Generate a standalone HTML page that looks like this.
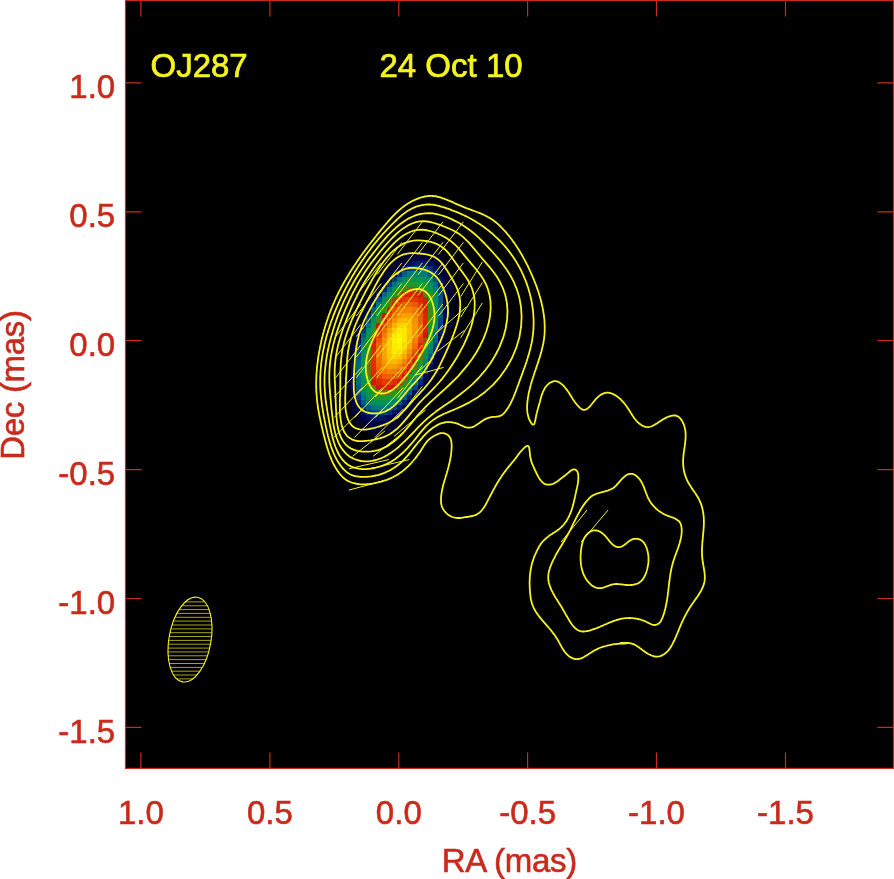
<!DOCTYPE html>
<html><head><meta charset="utf-8"><title>OJ287 24 Oct 10</title>
<style>
html,body{margin:0;padding:0;background:#fff;}
svg{display:block}
text{font-family:"Liberation Sans",sans-serif;font-size:33px}
.r{fill:#c92a1b;stroke:#c92a1b;stroke-width:0.6px}
.y{fill:#f6f420;stroke:#f6f420;stroke-width:0.7px}
</style></head><body>
<svg width="894" height="879" viewBox="0 0 894 879">
<rect x="125.5" y="0.5" width="768.0" height="767.9" fill="#000" stroke="#c92a1b" stroke-width="1.2"/>
<path d="M140.9 0.5v16 M140.9 768.4v-16 M125.5 82.9h16 M893.5 82.9h-16 M269.9 0.5v16 M269.9 768.4v-16 M125.5 211.8h16 M893.5 211.8h-16 M398.8 0.5v16 M398.8 768.4v-16 M125.5 340.7h16 M893.5 340.7h-16 M527.6 0.5v16 M527.6 768.4v-16 M125.5 469.6h16 M893.5 469.6h-16 M656.5 0.5v16 M656.5 768.4v-16 M125.5 598.5h16 M893.5 598.5h-16 M785.5 0.5v16 M785.5 768.4v-16 M125.5 727.4h16 M893.5 727.4h-16" stroke="#c92a1b" stroke-width="1.2" fill="none"/>
<text x="140.9" y="824.2" text-anchor="middle" class="r">1.0</text>
<text x="115.2" y="98.3" text-anchor="end" class="r">1.0</text>
<text x="269.9" y="824.2" text-anchor="middle" class="r">0.5</text>
<text x="115.2" y="227.2" text-anchor="end" class="r">0.5</text>
<text x="398.8" y="824.2" text-anchor="middle" class="r">0.0</text>
<text x="115.2" y="356.1" text-anchor="end" class="r">0.0</text>
<text x="527.6" y="824.2" text-anchor="middle" class="r">-0.5</text>
<text x="115.2" y="485.0" text-anchor="end" class="r">-0.5</text>
<text x="656.5" y="824.2" text-anchor="middle" class="r">-1.0</text>
<text x="115.2" y="613.9" text-anchor="end" class="r">-1.0</text>
<text x="785.5" y="824.2" text-anchor="middle" class="r">-1.5</text>
<text x="115.2" y="742.8" text-anchor="end" class="r">-1.5</text>
<text x="509.3" y="872" text-anchor="middle" class="r" letter-spacing="-0.3">RA (mas)</text>
<text transform="translate(24,385) rotate(-90)" text-anchor="middle" class="r" letter-spacing="-0.3">Dec (mas)</text>
<text x="150.5" y="77.4" class="y">OJ287</text>
<text x="379.5" y="77.4" class="y">24 Oct 10</text>
<g shape-rendering="crispEdges">
<rect x="417.56" y="245.78" width="5.19" height="5.19" fill="#000026"/>
<rect x="422.70" y="245.78" width="5.19" height="5.19" fill="#000026"/>
<rect x="402.14" y="250.92" width="5.19" height="5.19" fill="#000026"/>
<rect x="407.28" y="250.92" width="5.19" height="5.19" fill="#00002a"/>
<rect x="412.42" y="250.92" width="5.19" height="5.19" fill="#00002f"/>
<rect x="417.56" y="250.92" width="5.19" height="5.19" fill="#000032"/>
<rect x="422.70" y="250.92" width="5.19" height="5.19" fill="#000032"/>
<rect x="427.84" y="250.92" width="5.19" height="5.19" fill="#000030"/>
<rect x="432.98" y="250.92" width="5.19" height="5.19" fill="#00002b"/>
<rect x="397.00" y="256.06" width="5.19" height="5.19" fill="#000026"/>
<rect x="402.14" y="256.06" width="5.19" height="5.19" fill="#000030"/>
<rect x="407.28" y="256.06" width="5.19" height="5.19" fill="#000037"/>
<rect x="412.42" y="256.06" width="5.19" height="5.19" fill="#000240"/>
<rect x="417.56" y="256.06" width="5.19" height="5.19" fill="#000344"/>
<rect x="422.70" y="256.06" width="5.19" height="5.19" fill="#000343"/>
<rect x="427.84" y="256.06" width="5.19" height="5.19" fill="#00013d"/>
<rect x="432.98" y="256.06" width="5.19" height="5.19" fill="#000034"/>
<rect x="438.12" y="256.06" width="5.19" height="5.19" fill="#00002c"/>
<rect x="391.86" y="261.20" width="5.19" height="5.19" fill="#000028"/>
<rect x="397.00" y="261.20" width="5.19" height="5.19" fill="#000034"/>
<rect x="402.14" y="261.20" width="5.19" height="5.19" fill="#000343"/>
<rect x="407.28" y="261.20" width="5.19" height="5.19" fill="#000c55"/>
<rect x="412.42" y="261.20" width="5.19" height="5.19" fill="#001967"/>
<rect x="417.56" y="261.20" width="5.19" height="5.19" fill="#001d6d"/>
<rect x="422.70" y="261.20" width="5.19" height="5.19" fill="#001967"/>
<rect x="427.84" y="261.20" width="5.19" height="5.19" fill="#000c55"/>
<rect x="432.98" y="261.20" width="5.19" height="5.19" fill="#000342"/>
<rect x="438.12" y="261.20" width="5.19" height="5.19" fill="#000034"/>
<rect x="443.26" y="261.20" width="5.19" height="5.19" fill="#000028"/>
<rect x="386.72" y="266.34" width="5.19" height="5.19" fill="#000028"/>
<rect x="391.86" y="266.34" width="5.19" height="5.19" fill="#000036"/>
<rect x="397.00" y="266.34" width="5.19" height="5.19" fill="#00054a"/>
<rect x="402.14" y="266.34" width="5.19" height="5.19" fill="#001f6f"/>
<rect x="407.28" y="266.34" width="5.19" height="5.19" fill="#003f83"/>
<rect x="412.42" y="266.34" width="5.19" height="5.19" fill="#005186"/>
<rect x="417.56" y="266.34" width="5.19" height="5.19" fill="#005485"/>
<rect x="422.70" y="266.34" width="5.19" height="5.19" fill="#004887"/>
<rect x="427.84" y="266.34" width="5.19" height="5.19" fill="#002f78"/>
<rect x="432.98" y="266.34" width="5.19" height="5.19" fill="#00105b"/>
<rect x="438.12" y="266.34" width="5.19" height="5.19" fill="#00023e"/>
<rect x="443.26" y="266.34" width="5.19" height="5.19" fill="#00002e"/>
<rect x="381.58" y="271.48" width="5.19" height="5.19" fill="#000026"/>
<rect x="386.72" y="271.48" width="5.19" height="5.19" fill="#000035"/>
<rect x="391.86" y="271.48" width="5.19" height="5.19" fill="#000950"/>
<rect x="397.00" y="271.48" width="5.19" height="5.19" fill="#00327b"/>
<rect x="402.14" y="271.48" width="5.19" height="5.19" fill="#005e84"/>
<rect x="407.28" y="271.48" width="5.19" height="5.19" fill="#00767b"/>
<rect x="412.42" y="271.48" width="5.19" height="5.19" fill="#007f74"/>
<rect x="417.56" y="271.48" width="5.19" height="5.19" fill="#007f74"/>
<rect x="422.70" y="271.48" width="5.19" height="5.19" fill="#00757d"/>
<rect x="427.84" y="271.48" width="5.19" height="5.19" fill="#005985"/>
<rect x="432.98" y="271.48" width="5.19" height="5.19" fill="#002d77"/>
<rect x="438.12" y="271.48" width="5.19" height="5.19" fill="#00054b"/>
<rect x="443.26" y="271.48" width="5.19" height="5.19" fill="#000034"/>
<rect x="381.58" y="276.62" width="5.19" height="5.19" fill="#000033"/>
<rect x="386.72" y="276.62" width="5.19" height="5.19" fill="#00074e"/>
<rect x="391.86" y="276.62" width="5.19" height="5.19" fill="#003b80"/>
<rect x="397.00" y="276.62" width="5.19" height="5.19" fill="#007080"/>
<rect x="402.14" y="276.62" width="5.19" height="5.19" fill="#008a6b"/>
<rect x="407.28" y="276.62" width="5.19" height="5.19" fill="#049257"/>
<rect x="412.42" y="276.62" width="5.19" height="5.19" fill="#06954e"/>
<rect x="417.56" y="276.62" width="5.19" height="5.19" fill="#059353"/>
<rect x="422.70" y="276.62" width="5.19" height="5.19" fill="#018e64"/>
<rect x="427.84" y="276.62" width="5.19" height="5.19" fill="#007978"/>
<rect x="432.98" y="276.62" width="5.19" height="5.19" fill="#004e86"/>
<rect x="438.12" y="276.62" width="5.19" height="5.19" fill="#001562"/>
<rect x="443.26" y="276.62" width="5.19" height="5.19" fill="#000139"/>
<rect x="448.40" y="276.62" width="5.19" height="5.19" fill="#000028"/>
<rect x="376.44" y="281.76" width="5.19" height="5.19" fill="#00002f"/>
<rect x="381.58" y="281.76" width="5.19" height="5.19" fill="#000447"/>
<rect x="386.72" y="281.76" width="5.19" height="5.19" fill="#00377e"/>
<rect x="391.86" y="281.76" width="5.19" height="5.19" fill="#00757c"/>
<rect x="397.00" y="281.76" width="5.19" height="5.19" fill="#03905d"/>
<rect x="402.14" y="281.76" width="5.19" height="5.19" fill="#0a9b3d"/>
<rect x="407.28" y="281.76" width="5.19" height="5.19" fill="#18992e"/>
<rect x="412.42" y="281.76" width="5.19" height="5.19" fill="#1d9829"/>
<rect x="417.56" y="281.76" width="5.19" height="5.19" fill="#169930"/>
<rect x="422.70" y="281.76" width="5.19" height="5.19" fill="#089943"/>
<rect x="427.84" y="281.76" width="5.19" height="5.19" fill="#018d65"/>
<rect x="432.98" y="281.76" width="5.19" height="5.19" fill="#006b82"/>
<rect x="438.12" y="281.76" width="5.19" height="5.19" fill="#002874"/>
<rect x="443.26" y="281.76" width="5.19" height="5.19" fill="#000240"/>
<rect x="448.40" y="281.76" width="5.19" height="5.19" fill="#00002b"/>
<rect x="371.30" y="286.90" width="5.19" height="5.19" fill="#000028"/>
<rect x="376.44" y="286.90" width="5.19" height="5.19" fill="#00023e"/>
<rect x="381.58" y="286.90" width="5.19" height="5.19" fill="#002975"/>
<rect x="386.72" y="286.90" width="5.19" height="5.19" fill="#00727f"/>
<rect x="391.86" y="286.90" width="5.19" height="5.19" fill="#049257"/>
<rect x="397.00" y="286.90" width="5.19" height="5.19" fill="#169930"/>
<rect x="402.14" y="286.90" width="5.19" height="5.19" fill="#448817"/>
<rect x="407.28" y="286.90" width="5.19" height="5.19" fill="#836309"/>
<rect x="412.42" y="286.90" width="5.19" height="5.19" fill="#8b5a08"/>
<rect x="417.56" y="286.90" width="5.19" height="5.19" fill="#567f12"/>
<rect x="422.70" y="286.90" width="5.19" height="5.19" fill="#1c982a"/>
<rect x="427.84" y="286.90" width="5.19" height="5.19" fill="#06954d"/>
<rect x="432.98" y="286.90" width="5.19" height="5.19" fill="#007c77"/>
<rect x="438.12" y="286.90" width="5.19" height="5.19" fill="#003b80"/>
<rect x="443.26" y="286.90" width="5.19" height="5.19" fill="#000446"/>
<rect x="448.40" y="286.90" width="5.19" height="5.19" fill="#00002d"/>
<rect x="371.30" y="292.04" width="5.19" height="5.19" fill="#000034"/>
<rect x="376.44" y="292.04" width="5.19" height="5.19" fill="#001561"/>
<rect x="381.58" y="292.04" width="5.19" height="5.19" fill="#006483"/>
<rect x="386.72" y="292.04" width="5.19" height="5.19" fill="#03905c"/>
<rect x="391.86" y="292.04" width="5.19" height="5.19" fill="#1a982c"/>
<rect x="397.00" y="292.04" width="5.19" height="5.19" fill="#816509"/>
<rect x="402.14" y="292.04" width="5.19" height="5.19" fill="#d21b00"/>
<rect x="407.28" y="292.04" width="5.19" height="5.19" fill="#d82200"/>
<rect x="412.42" y="292.04" width="5.19" height="5.19" fill="#d72100"/>
<rect x="417.56" y="292.04" width="5.19" height="5.19" fill="#cf1600"/>
<rect x="422.70" y="292.04" width="5.19" height="5.19" fill="#528113"/>
<rect x="427.84" y="292.04" width="5.19" height="5.19" fill="#0d9a39"/>
<rect x="432.98" y="292.04" width="5.19" height="5.19" fill="#00886c"/>
<rect x="438.12" y="292.04" width="5.19" height="5.19" fill="#004987"/>
<rect x="443.26" y="292.04" width="5.19" height="5.19" fill="#00054a"/>
<rect x="448.40" y="292.04" width="5.19" height="5.19" fill="#00002e"/>
<rect x="366.16" y="297.18" width="5.19" height="5.19" fill="#00002b"/>
<rect x="371.30" y="297.18" width="5.19" height="5.19" fill="#000447"/>
<rect x="376.44" y="297.18" width="5.19" height="5.19" fill="#004887"/>
<rect x="381.58" y="297.18" width="5.19" height="5.19" fill="#008b6a"/>
<rect x="386.72" y="297.18" width="5.19" height="5.19" fill="#159931"/>
<rect x="391.86" y="297.18" width="5.19" height="5.19" fill="#964f07"/>
<rect x="397.00" y="297.18" width="5.19" height="5.19" fill="#d92400"/>
<rect x="402.14" y="297.18" width="5.19" height="5.19" fill="#e23700"/>
<rect x="407.28" y="297.18" width="5.19" height="5.19" fill="#e54100"/>
<rect x="412.42" y="297.18" width="5.19" height="5.19" fill="#e33900"/>
<rect x="417.56" y="297.18" width="5.19" height="5.19" fill="#db2600"/>
<rect x="422.70" y="297.18" width="5.19" height="5.19" fill="#b03203"/>
<rect x="427.84" y="297.18" width="5.19" height="5.19" fill="#1b982b"/>
<rect x="432.98" y="297.18" width="5.19" height="5.19" fill="#018e63"/>
<rect x="438.12" y="297.18" width="5.19" height="5.19" fill="#005385"/>
<rect x="443.26" y="297.18" width="5.19" height="5.19" fill="#00064d"/>
<rect x="448.40" y="297.18" width="5.19" height="5.19" fill="#00002e"/>
<rect x="366.16" y="302.32" width="5.19" height="5.19" fill="#000036"/>
<rect x="371.30" y="302.32" width="5.19" height="5.19" fill="#002170"/>
<rect x="376.44" y="302.32" width="5.19" height="5.19" fill="#00787a"/>
<rect x="381.58" y="302.32" width="5.19" height="5.19" fill="#099a3f"/>
<rect x="386.72" y="302.32" width="5.19" height="5.19" fill="#74700b"/>
<rect x="391.86" y="302.32" width="5.19" height="5.19" fill="#da2600"/>
<rect x="397.00" y="302.32" width="5.19" height="5.19" fill="#e74800"/>
<rect x="402.14" y="302.32" width="5.19" height="5.19" fill="#ed6100"/>
<rect x="407.28" y="302.32" width="5.19" height="5.19" fill="#ef6700"/>
<rect x="412.42" y="302.32" width="5.19" height="5.19" fill="#eb5900"/>
<rect x="417.56" y="302.32" width="5.19" height="5.19" fill="#e33800"/>
<rect x="422.70" y="302.32" width="5.19" height="5.19" fill="#d21a00"/>
<rect x="427.84" y="302.32" width="5.19" height="5.19" fill="#249722"/>
<rect x="432.98" y="302.32" width="5.19" height="5.19" fill="#03915b"/>
<rect x="438.12" y="302.32" width="5.19" height="5.19" fill="#005785"/>
<rect x="443.26" y="302.32" width="5.19" height="5.19" fill="#00074d"/>
<rect x="448.40" y="302.32" width="5.19" height="5.19" fill="#00002d"/>
<rect x="361.02" y="307.46" width="5.19" height="5.19" fill="#00002b"/>
<rect x="366.16" y="307.46" width="5.19" height="5.19" fill="#00054a"/>
<rect x="371.30" y="307.46" width="5.19" height="5.19" fill="#005585"/>
<rect x="376.44" y="307.46" width="5.19" height="5.19" fill="#039159"/>
<rect x="381.58" y="307.46" width="5.19" height="5.19" fill="#2f931c"/>
<rect x="386.72" y="307.46" width="5.19" height="5.19" fill="#d72100"/>
<rect x="391.86" y="307.46" width="5.19" height="5.19" fill="#e84b00"/>
<rect x="397.00" y="307.46" width="5.19" height="5.19" fill="#f17200"/>
<rect x="402.14" y="307.46" width="5.19" height="5.19" fill="#f48400"/>
<rect x="407.28" y="307.46" width="5.19" height="5.19" fill="#f48400"/>
<rect x="412.42" y="307.46" width="5.19" height="5.19" fill="#f17300"/>
<rect x="417.56" y="307.46" width="5.19" height="5.19" fill="#e84c00"/>
<rect x="422.70" y="307.46" width="5.19" height="5.19" fill="#d72100"/>
<rect x="427.84" y="307.46" width="5.19" height="5.19" fill="#33901b"/>
<rect x="432.98" y="307.46" width="5.19" height="5.19" fill="#049258"/>
<rect x="438.12" y="307.46" width="5.19" height="5.19" fill="#005785"/>
<rect x="443.26" y="307.46" width="5.19" height="5.19" fill="#00054a"/>
<rect x="448.40" y="307.46" width="5.19" height="5.19" fill="#00002c"/>
<rect x="361.02" y="312.60" width="5.19" height="5.19" fill="#000035"/>
<rect x="366.16" y="312.60" width="5.19" height="5.19" fill="#002270"/>
<rect x="371.30" y="312.60" width="5.19" height="5.19" fill="#007d76"/>
<rect x="376.44" y="312.60" width="5.19" height="5.19" fill="#129a34"/>
<rect x="381.58" y="312.60" width="5.19" height="5.19" fill="#ce1500"/>
<rect x="386.72" y="312.60" width="5.19" height="5.19" fill="#e53f00"/>
<rect x="391.86" y="312.60" width="5.19" height="5.19" fill="#f17400"/>
<rect x="397.00" y="312.60" width="5.19" height="5.19" fill="#f69400"/>
<rect x="402.14" y="312.60" width="5.19" height="5.19" fill="#f9a300"/>
<rect x="407.28" y="312.60" width="5.19" height="5.19" fill="#f89e00"/>
<rect x="412.42" y="312.60" width="5.19" height="5.19" fill="#f48400"/>
<rect x="417.56" y="312.60" width="5.19" height="5.19" fill="#eb5a00"/>
<rect x="422.70" y="312.60" width="5.19" height="5.19" fill="#da2500"/>
<rect x="427.84" y="312.60" width="5.19" height="5.19" fill="#3d8c19"/>
<rect x="432.98" y="312.60" width="5.19" height="5.19" fill="#039159"/>
<rect x="438.12" y="312.60" width="5.19" height="5.19" fill="#005186"/>
<rect x="443.26" y="312.60" width="5.19" height="5.19" fill="#000447"/>
<rect x="448.40" y="312.60" width="5.19" height="5.19" fill="#00002a"/>
<rect x="361.02" y="317.74" width="5.19" height="5.19" fill="#000445"/>
<rect x="366.16" y="317.74" width="5.19" height="5.19" fill="#004f86"/>
<rect x="371.30" y="317.74" width="5.19" height="5.19" fill="#049159"/>
<rect x="376.44" y="317.74" width="5.19" height="5.19" fill="#4a8516"/>
<rect x="381.58" y="317.74" width="5.19" height="5.19" fill="#dd2900"/>
<rect x="386.72" y="317.74" width="5.19" height="5.19" fill="#ef6700"/>
<rect x="391.86" y="317.74" width="5.19" height="5.19" fill="#f69400"/>
<rect x="397.00" y="317.74" width="5.19" height="5.19" fill="#fbb400"/>
<rect x="402.14" y="317.74" width="5.19" height="5.19" fill="#fcbd00"/>
<rect x="407.28" y="317.74" width="5.19" height="5.19" fill="#fbb200"/>
<rect x="412.42" y="317.74" width="5.19" height="5.19" fill="#f69100"/>
<rect x="417.56" y="317.74" width="5.19" height="5.19" fill="#ed6200"/>
<rect x="422.70" y="317.74" width="5.19" height="5.19" fill="#db2600"/>
<rect x="427.84" y="317.74" width="5.19" height="5.19" fill="#34901b"/>
<rect x="432.98" y="317.74" width="5.19" height="5.19" fill="#028f5f"/>
<rect x="438.12" y="317.74" width="5.19" height="5.19" fill="#004787"/>
<rect x="443.26" y="317.74" width="5.19" height="5.19" fill="#000342"/>
<rect x="448.40" y="317.74" width="5.19" height="5.19" fill="#000026"/>
<rect x="355.88" y="322.88" width="5.19" height="5.19" fill="#000031"/>
<rect x="361.02" y="322.88" width="5.19" height="5.19" fill="#001662"/>
<rect x="366.16" y="322.88" width="5.19" height="5.19" fill="#00757c"/>
<rect x="371.30" y="322.88" width="5.19" height="5.19" fill="#0e9a38"/>
<rect x="376.44" y="322.88" width="5.19" height="5.19" fill="#ce1600"/>
<rect x="381.58" y="322.88" width="5.19" height="5.19" fill="#e74a00"/>
<rect x="386.72" y="322.88" width="5.19" height="5.19" fill="#f48600"/>
<rect x="391.86" y="322.88" width="5.19" height="5.19" fill="#fbb300"/>
<rect x="397.00" y="322.88" width="5.19" height="5.19" fill="#fdcf00"/>
<rect x="402.14" y="322.88" width="5.19" height="5.19" fill="#fed400"/>
<rect x="407.28" y="322.88" width="5.19" height="5.19" fill="#fcbf00"/>
<rect x="412.42" y="322.88" width="5.19" height="5.19" fill="#f79700"/>
<rect x="417.56" y="322.88" width="5.19" height="5.19" fill="#ee6300"/>
<rect x="422.70" y="322.88" width="5.19" height="5.19" fill="#d92400"/>
<rect x="427.84" y="322.88" width="5.19" height="5.19" fill="#259721"/>
<rect x="432.98" y="322.88" width="5.19" height="5.19" fill="#008c69"/>
<rect x="438.12" y="322.88" width="5.19" height="5.19" fill="#00377e"/>
<rect x="443.26" y="322.88" width="5.19" height="5.19" fill="#00013b"/>
<rect x="448.40" y="322.88" width="5.19" height="5.19" fill="#000026"/>
<rect x="355.88" y="328.02" width="5.19" height="5.19" fill="#00013a"/>
<rect x="361.02" y="328.02" width="5.19" height="5.19" fill="#00377e"/>
<rect x="366.16" y="328.02" width="5.19" height="5.19" fill="#008c68"/>
<rect x="371.30" y="328.02" width="5.19" height="5.19" fill="#27961f"/>
<rect x="376.44" y="328.02" width="5.19" height="5.19" fill="#db2700"/>
<rect x="381.58" y="328.02" width="5.19" height="5.19" fill="#f06a00"/>
<rect x="386.72" y="328.02" width="5.19" height="5.19" fill="#f8a100"/>
<rect x="391.86" y="328.02" width="5.19" height="5.19" fill="#fdcc00"/>
<rect x="397.00" y="328.02" width="5.19" height="5.19" fill="#ffe700"/>
<rect x="402.14" y="328.02" width="5.19" height="5.19" fill="#ffe500"/>
<rect x="407.28" y="328.02" width="5.19" height="5.19" fill="#fcc500"/>
<rect x="412.42" y="328.02" width="5.19" height="5.19" fill="#f79700"/>
<rect x="417.56" y="328.02" width="5.19" height="5.19" fill="#ec5d00"/>
<rect x="422.70" y="328.02" width="5.19" height="5.19" fill="#d51f00"/>
<rect x="427.84" y="328.02" width="5.19" height="5.19" fill="#1b982b"/>
<rect x="432.98" y="328.02" width="5.19" height="5.19" fill="#008172"/>
<rect x="438.12" y="328.02" width="5.19" height="5.19" fill="#002371"/>
<rect x="443.26" y="328.02" width="5.19" height="5.19" fill="#000035"/>
<rect x="355.88" y="333.16" width="5.19" height="5.19" fill="#000448"/>
<rect x="361.02" y="333.16" width="5.19" height="5.19" fill="#005a84"/>
<rect x="366.16" y="333.16" width="5.19" height="5.19" fill="#06954d"/>
<rect x="371.30" y="333.16" width="5.19" height="5.19" fill="#895c08"/>
<rect x="376.44" y="333.16" width="5.19" height="5.19" fill="#e43c00"/>
<rect x="381.58" y="333.16" width="5.19" height="5.19" fill="#f38100"/>
<rect x="386.72" y="333.16" width="5.19" height="5.19" fill="#fbb700"/>
<rect x="391.86" y="333.16" width="5.19" height="5.19" fill="#ffe300"/>
<rect x="397.00" y="333.16" width="5.19" height="5.19" fill="#fff400"/>
<rect x="402.14" y="333.16" width="5.19" height="5.19" fill="#ffe900"/>
<rect x="407.28" y="333.16" width="5.19" height="5.19" fill="#fcc200"/>
<rect x="412.42" y="333.16" width="5.19" height="5.19" fill="#f69000"/>
<rect x="417.56" y="333.16" width="5.19" height="5.19" fill="#e95000"/>
<rect x="422.70" y="333.16" width="5.19" height="5.19" fill="#cf1700"/>
<rect x="427.84" y="333.16" width="5.19" height="5.19" fill="#0d9a39"/>
<rect x="432.98" y="333.16" width="5.19" height="5.19" fill="#00737e"/>
<rect x="438.12" y="333.16" width="5.19" height="5.19" fill="#00125d"/>
<rect x="443.26" y="333.16" width="5.19" height="5.19" fill="#00002f"/>
<rect x="350.74" y="338.30" width="5.19" height="5.19" fill="#000030"/>
<rect x="355.88" y="338.30" width="5.19" height="5.19" fill="#001460"/>
<rect x="361.02" y="338.30" width="5.19" height="5.19" fill="#00757c"/>
<rect x="366.16" y="338.30" width="5.19" height="5.19" fill="#109a36"/>
<rect x="371.30" y="338.30" width="5.19" height="5.19" fill="#d11900"/>
<rect x="376.44" y="338.30" width="5.19" height="5.19" fill="#ea5300"/>
<rect x="381.58" y="338.30" width="5.19" height="5.19" fill="#f69300"/>
<rect x="386.72" y="338.30" width="5.19" height="5.19" fill="#fcc600"/>
<rect x="391.86" y="338.30" width="5.19" height="5.19" fill="#ffec00"/>
<rect x="397.00" y="338.30" width="5.19" height="5.19" fill="#fffc00"/>
<rect x="402.14" y="338.30" width="5.19" height="5.19" fill="#ffe500"/>
<rect x="407.28" y="338.30" width="5.19" height="5.19" fill="#fbb800"/>
<rect x="412.42" y="338.30" width="5.19" height="5.19" fill="#f38200"/>
<rect x="417.56" y="338.30" width="5.19" height="5.19" fill="#e43e00"/>
<rect x="422.70" y="338.30" width="5.19" height="5.19" fill="#8c5908"/>
<rect x="427.84" y="338.30" width="5.19" height="5.19" fill="#06964c"/>
<rect x="432.98" y="338.30" width="5.19" height="5.19" fill="#005b84"/>
<rect x="438.12" y="338.30" width="5.19" height="5.19" fill="#000448"/>
<rect x="443.26" y="338.30" width="5.19" height="5.19" fill="#000029"/>
<rect x="350.74" y="343.44" width="5.19" height="5.19" fill="#000036"/>
<rect x="355.88" y="343.44" width="5.19" height="5.19" fill="#002a75"/>
<rect x="361.02" y="343.44" width="5.19" height="5.19" fill="#00856e"/>
<rect x="366.16" y="343.44" width="5.19" height="5.19" fill="#209726"/>
<rect x="371.30" y="343.44" width="5.19" height="5.19" fill="#d82300"/>
<rect x="376.44" y="343.44" width="5.19" height="5.19" fill="#ee6500"/>
<rect x="381.58" y="343.44" width="5.19" height="5.19" fill="#f89f00"/>
<rect x="386.72" y="343.44" width="5.19" height="5.19" fill="#fdcf00"/>
<rect x="391.86" y="343.44" width="5.19" height="5.19" fill="#ffed00"/>
<rect x="397.00" y="343.44" width="5.19" height="5.19" fill="#fff000"/>
<rect x="402.14" y="343.44" width="5.19" height="5.19" fill="#fed500"/>
<rect x="407.28" y="343.44" width="5.19" height="5.19" fill="#f9a800"/>
<rect x="412.42" y="343.44" width="5.19" height="5.19" fill="#f17000"/>
<rect x="417.56" y="343.44" width="5.19" height="5.19" fill="#dd2900"/>
<rect x="422.70" y="343.44" width="5.19" height="5.19" fill="#31921c"/>
<rect x="427.84" y="343.44" width="5.19" height="5.19" fill="#018e64"/>
<rect x="432.98" y="343.44" width="5.19" height="5.19" fill="#003b80"/>
<rect x="438.12" y="343.44" width="5.19" height="5.19" fill="#00013c"/>
<rect x="443.26" y="343.44" width="5.19" height="5.19" fill="#000026"/>
<rect x="350.74" y="348.58" width="5.19" height="5.19" fill="#00023e"/>
<rect x="355.88" y="348.58" width="5.19" height="5.19" fill="#004184"/>
<rect x="361.02" y="348.58" width="5.19" height="5.19" fill="#028f60"/>
<rect x="366.16" y="348.58" width="5.19" height="5.19" fill="#3c8c19"/>
<rect x="371.30" y="348.58" width="5.19" height="5.19" fill="#de2a00"/>
<rect x="376.44" y="348.58" width="5.19" height="5.19" fill="#f16f00"/>
<rect x="381.58" y="348.58" width="5.19" height="5.19" fill="#f9a500"/>
<rect x="386.72" y="348.58" width="5.19" height="5.19" fill="#fdce00"/>
<rect x="391.86" y="348.58" width="5.19" height="5.19" fill="#ffe600"/>
<rect x="397.00" y="348.58" width="5.19" height="5.19" fill="#ffe100"/>
<rect x="402.14" y="348.58" width="5.19" height="5.19" fill="#fcbf00"/>
<rect x="407.28" y="348.58" width="5.19" height="5.19" fill="#f69000"/>
<rect x="412.42" y="348.58" width="5.19" height="5.19" fill="#ea5400"/>
<rect x="417.56" y="348.58" width="5.19" height="5.19" fill="#d21a00"/>
<rect x="422.70" y="348.58" width="5.19" height="5.19" fill="#149932"/>
<rect x="427.84" y="348.58" width="5.19" height="5.19" fill="#007a78"/>
<rect x="432.98" y="348.58" width="5.19" height="5.19" fill="#001a68"/>
<rect x="438.12" y="348.58" width="5.19" height="5.19" fill="#000032"/>
<rect x="350.74" y="353.72" width="5.19" height="5.19" fill="#000447"/>
<rect x="355.88" y="353.72" width="5.19" height="5.19" fill="#005485"/>
<rect x="361.02" y="353.72" width="5.19" height="5.19" fill="#059353"/>
<rect x="366.16" y="353.72" width="5.19" height="5.19" fill="#64780f"/>
<rect x="371.30" y="353.72" width="5.19" height="5.19" fill="#e13000"/>
<rect x="376.44" y="353.72" width="5.19" height="5.19" fill="#f17300"/>
<rect x="381.58" y="353.72" width="5.19" height="5.19" fill="#f9a300"/>
<rect x="386.72" y="353.72" width="5.19" height="5.19" fill="#fcc500"/>
<rect x="391.86" y="353.72" width="5.19" height="5.19" fill="#fdd300"/>
<rect x="397.00" y="353.72" width="5.19" height="5.19" fill="#fcc600"/>
<rect x="402.14" y="353.72" width="5.19" height="5.19" fill="#f9a600"/>
<rect x="407.28" y="353.72" width="5.19" height="5.19" fill="#f17500"/>
<rect x="412.42" y="353.72" width="5.19" height="5.19" fill="#e23400"/>
<rect x="417.56" y="353.72" width="5.19" height="5.19" fill="#73700b"/>
<rect x="422.70" y="353.72" width="5.19" height="5.19" fill="#06954f"/>
<rect x="427.84" y="353.72" width="5.19" height="5.19" fill="#005a84"/>
<rect x="432.98" y="353.72" width="5.19" height="5.19" fill="#000449"/>
<rect x="438.12" y="353.72" width="5.19" height="5.19" fill="#00002a"/>
<rect x="350.74" y="358.86" width="5.19" height="5.19" fill="#000850"/>
<rect x="355.88" y="358.86" width="5.19" height="5.19" fill="#006383"/>
<rect x="361.02" y="358.86" width="5.19" height="5.19" fill="#07964a"/>
<rect x="366.16" y="358.86" width="5.19" height="5.19" fill="#7b6b0a"/>
<rect x="371.30" y="358.86" width="5.19" height="5.19" fill="#e13200"/>
<rect x="376.44" y="358.86" width="5.19" height="5.19" fill="#f17000"/>
<rect x="381.58" y="358.86" width="5.19" height="5.19" fill="#f79a00"/>
<rect x="386.72" y="358.86" width="5.19" height="5.19" fill="#fbb500"/>
<rect x="391.86" y="358.86" width="5.19" height="5.19" fill="#fbba00"/>
<rect x="397.00" y="358.86" width="5.19" height="5.19" fill="#faab00"/>
<rect x="402.14" y="358.86" width="5.19" height="5.19" fill="#f48600"/>
<rect x="407.28" y="358.86" width="5.19" height="5.19" fill="#ea5300"/>
<rect x="412.42" y="358.86" width="5.19" height="5.19" fill="#d41e00"/>
<rect x="417.56" y="358.86" width="5.19" height="5.19" fill="#1d9829"/>
<rect x="422.70" y="358.86" width="5.19" height="5.19" fill="#00866e"/>
<rect x="427.84" y="358.86" width="5.19" height="5.19" fill="#003079"/>
<rect x="432.98" y="358.86" width="5.19" height="5.19" fill="#000038"/>
<rect x="438.12" y="358.86" width="5.19" height="5.19" fill="#000026"/>
<rect x="350.74" y="364.00" width="5.19" height="5.19" fill="#00105a"/>
<rect x="355.88" y="364.00" width="5.19" height="5.19" fill="#006c82"/>
<rect x="361.02" y="364.00" width="5.19" height="5.19" fill="#089846"/>
<rect x="366.16" y="364.00" width="5.19" height="5.19" fill="#7f6609"/>
<rect x="371.30" y="364.00" width="5.19" height="5.19" fill="#e02e00"/>
<rect x="376.44" y="364.00" width="5.19" height="5.19" fill="#ef6700"/>
<rect x="381.58" y="364.00" width="5.19" height="5.19" fill="#f58b00"/>
<rect x="386.72" y="364.00" width="5.19" height="5.19" fill="#f89e00"/>
<rect x="391.86" y="364.00" width="5.19" height="5.19" fill="#f89e00"/>
<rect x="397.00" y="364.00" width="5.19" height="5.19" fill="#f58900"/>
<rect x="402.14" y="364.00" width="5.19" height="5.19" fill="#ee6400"/>
<rect x="407.28" y="364.00" width="5.19" height="5.19" fill="#df2c00"/>
<rect x="412.42" y="364.00" width="5.19" height="5.19" fill="#72710c"/>
<rect x="417.56" y="364.00" width="5.19" height="5.19" fill="#079749"/>
<rect x="422.70" y="364.00" width="5.19" height="5.19" fill="#006783"/>
<rect x="427.84" y="364.00" width="5.19" height="5.19" fill="#000d56"/>
<rect x="432.98" y="364.00" width="5.19" height="5.19" fill="#00002f"/>
<rect x="350.74" y="369.14" width="5.19" height="5.19" fill="#001461"/>
<rect x="355.88" y="369.14" width="5.19" height="5.19" fill="#006f81"/>
<rect x="361.02" y="369.14" width="5.19" height="5.19" fill="#089846"/>
<rect x="366.16" y="369.14" width="5.19" height="5.19" fill="#6e730c"/>
<rect x="371.30" y="369.14" width="5.19" height="5.19" fill="#dd2900"/>
<rect x="376.44" y="369.14" width="5.19" height="5.19" fill="#ea5600"/>
<rect x="381.58" y="369.14" width="5.19" height="5.19" fill="#f27600"/>
<rect x="386.72" y="369.14" width="5.19" height="5.19" fill="#f48300"/>
<rect x="391.86" y="369.14" width="5.19" height="5.19" fill="#f37d00"/>
<rect x="397.00" y="369.14" width="5.19" height="5.19" fill="#ef6600"/>
<rect x="402.14" y="369.14" width="5.19" height="5.19" fill="#e33a00"/>
<rect x="407.28" y="369.14" width="5.19" height="5.19" fill="#cf1600"/>
<rect x="412.42" y="369.14" width="5.19" height="5.19" fill="#18992e"/>
<rect x="417.56" y="369.14" width="5.19" height="5.19" fill="#00866e"/>
<rect x="422.70" y="369.14" width="5.19" height="5.19" fill="#00367d"/>
<rect x="427.84" y="369.14" width="5.19" height="5.19" fill="#00023d"/>
<rect x="432.98" y="369.14" width="5.19" height="5.19" fill="#000026"/>
<rect x="345.60" y="374.28" width="5.19" height="5.19" fill="#000033"/>
<rect x="350.74" y="374.28" width="5.19" height="5.19" fill="#001663"/>
<rect x="355.88" y="374.28" width="5.19" height="5.19" fill="#006f81"/>
<rect x="361.02" y="374.28" width="5.19" height="5.19" fill="#07964b"/>
<rect x="366.16" y="374.28" width="5.19" height="5.19" fill="#4c8415"/>
<rect x="371.30" y="374.28" width="5.19" height="5.19" fill="#d62000"/>
<rect x="376.44" y="374.28" width="5.19" height="5.19" fill="#e54000"/>
<rect x="381.58" y="374.28" width="5.19" height="5.19" fill="#ec5b00"/>
<rect x="386.72" y="374.28" width="5.19" height="5.19" fill="#ee6400"/>
<rect x="391.86" y="374.28" width="5.19" height="5.19" fill="#eb5800"/>
<rect x="397.00" y="374.28" width="5.19" height="5.19" fill="#e33a00"/>
<rect x="402.14" y="374.28" width="5.19" height="5.19" fill="#d31c00"/>
<rect x="407.28" y="374.28" width="5.19" height="5.19" fill="#2c941d"/>
<rect x="412.42" y="374.28" width="5.19" height="5.19" fill="#059354"/>
<rect x="417.56" y="374.28" width="5.19" height="5.19" fill="#006184"/>
<rect x="422.70" y="374.28" width="5.19" height="5.19" fill="#000d56"/>
<rect x="427.84" y="374.28" width="5.19" height="5.19" fill="#000030"/>
<rect x="432.98" y="374.28" width="5.19" height="5.19" fill="#000026"/>
<rect x="345.60" y="379.42" width="5.19" height="5.19" fill="#000033"/>
<rect x="350.74" y="379.42" width="5.19" height="5.19" fill="#001561"/>
<rect x="355.88" y="379.42" width="5.19" height="5.19" fill="#006983"/>
<rect x="361.02" y="379.42" width="5.19" height="5.19" fill="#059354"/>
<rect x="366.16" y="379.42" width="5.19" height="5.19" fill="#259721"/>
<rect x="371.30" y="379.42" width="5.19" height="5.19" fill="#ce1600"/>
<rect x="376.44" y="379.42" width="5.19" height="5.19" fill="#dd2900"/>
<rect x="381.58" y="379.42" width="5.19" height="5.19" fill="#e33900"/>
<rect x="386.72" y="379.42" width="5.19" height="5.19" fill="#e43c00"/>
<rect x="391.86" y="379.42" width="5.19" height="5.19" fill="#e02d00"/>
<rect x="397.00" y="379.42" width="5.19" height="5.19" fill="#d31c00"/>
<rect x="402.14" y="379.42" width="5.19" height="5.19" fill="#508214"/>
<rect x="407.28" y="379.42" width="5.19" height="5.19" fill="#099942"/>
<rect x="412.42" y="379.42" width="5.19" height="5.19" fill="#007a78"/>
<rect x="417.56" y="379.42" width="5.19" height="5.19" fill="#002b76"/>
<rect x="422.70" y="379.42" width="5.19" height="5.19" fill="#00013b"/>
<rect x="427.84" y="379.42" width="5.19" height="5.19" fill="#000026"/>
<rect x="345.60" y="384.56" width="5.19" height="5.19" fill="#000033"/>
<rect x="350.74" y="384.56" width="5.19" height="5.19" fill="#00115c"/>
<rect x="355.88" y="384.56" width="5.19" height="5.19" fill="#005d84"/>
<rect x="361.02" y="384.56" width="5.19" height="5.19" fill="#028f61"/>
<rect x="366.16" y="384.56" width="5.19" height="5.19" fill="#169930"/>
<rect x="371.30" y="384.56" width="5.19" height="5.19" fill="#6c740d"/>
<rect x="376.44" y="384.56" width="5.19" height="5.19" fill="#d01800"/>
<rect x="381.58" y="384.56" width="5.19" height="5.19" fill="#d62000"/>
<rect x="386.72" y="384.56" width="5.19" height="5.19" fill="#d51e00"/>
<rect x="391.86" y="384.56" width="5.19" height="5.19" fill="#ce1500"/>
<rect x="397.00" y="384.56" width="5.19" height="5.19" fill="#4a8516"/>
<rect x="402.14" y="384.56" width="5.19" height="5.19" fill="#0c9b3a"/>
<rect x="407.28" y="384.56" width="5.19" height="5.19" fill="#00876d"/>
<rect x="412.42" y="384.56" width="5.19" height="5.19" fill="#004887"/>
<rect x="417.56" y="384.56" width="5.19" height="5.19" fill="#00054a"/>
<rect x="422.70" y="384.56" width="5.19" height="5.19" fill="#00002e"/>
<rect x="427.84" y="384.56" width="5.19" height="5.19" fill="#000026"/>
<rect x="350.74" y="389.70" width="5.19" height="5.19" fill="#000a52"/>
<rect x="355.88" y="389.70" width="5.19" height="5.19" fill="#004d86"/>
<rect x="361.02" y="389.70" width="5.19" height="5.19" fill="#00856f"/>
<rect x="366.16" y="389.70" width="5.19" height="5.19" fill="#089844"/>
<rect x="371.30" y="389.70" width="5.19" height="5.19" fill="#209726"/>
<rect x="376.44" y="389.70" width="5.19" height="5.19" fill="#5a7d11"/>
<rect x="381.58" y="389.70" width="5.19" height="5.19" fill="#7c6a0a"/>
<rect x="386.72" y="389.70" width="5.19" height="5.19" fill="#65780f"/>
<rect x="391.86" y="389.70" width="5.19" height="5.19" fill="#259721"/>
<rect x="397.00" y="389.70" width="5.19" height="5.19" fill="#0a9b3c"/>
<rect x="402.14" y="389.70" width="5.19" height="5.19" fill="#008c68"/>
<rect x="407.28" y="389.70" width="5.19" height="5.19" fill="#005b84"/>
<rect x="412.42" y="389.70" width="5.19" height="5.19" fill="#001460"/>
<rect x="417.56" y="389.70" width="5.19" height="5.19" fill="#000035"/>
<rect x="422.70" y="389.70" width="5.19" height="5.19" fill="#000026"/>
<rect x="350.74" y="394.84" width="5.19" height="5.19" fill="#000448"/>
<rect x="355.88" y="394.84" width="5.19" height="5.19" fill="#00387e"/>
<rect x="361.02" y="394.84" width="5.19" height="5.19" fill="#00747d"/>
<rect x="366.16" y="394.84" width="5.19" height="5.19" fill="#02905e"/>
<rect x="371.30" y="394.84" width="5.19" height="5.19" fill="#099a40"/>
<rect x="376.44" y="394.84" width="5.19" height="5.19" fill="#169930"/>
<rect x="381.58" y="394.84" width="5.19" height="5.19" fill="#19982d"/>
<rect x="386.72" y="394.84" width="5.19" height="5.19" fill="#129a34"/>
<rect x="391.86" y="394.84" width="5.19" height="5.19" fill="#079749"/>
<rect x="397.00" y="394.84" width="5.19" height="5.19" fill="#008a6b"/>
<rect x="402.14" y="394.84" width="5.19" height="5.19" fill="#006283"/>
<rect x="407.28" y="394.84" width="5.19" height="5.19" fill="#001e6e"/>
<rect x="412.42" y="394.84" width="5.19" height="5.19" fill="#00013d"/>
<rect x="417.56" y="394.84" width="5.19" height="5.19" fill="#000029"/>
<rect x="350.74" y="399.98" width="5.19" height="5.19" fill="#000240"/>
<rect x="355.88" y="399.98" width="5.19" height="5.19" fill="#001e6e"/>
<rect x="361.02" y="399.98" width="5.19" height="5.19" fill="#005985"/>
<rect x="366.16" y="399.98" width="5.19" height="5.19" fill="#007e75"/>
<rect x="371.30" y="399.98" width="5.19" height="5.19" fill="#028e62"/>
<rect x="376.44" y="399.98" width="5.19" height="5.19" fill="#059354"/>
<rect x="381.58" y="399.98" width="5.19" height="5.19" fill="#059354"/>
<rect x="386.72" y="399.98" width="5.19" height="5.19" fill="#028f60"/>
<rect x="391.86" y="399.98" width="5.19" height="5.19" fill="#008073"/>
<rect x="397.00" y="399.98" width="5.19" height="5.19" fill="#005e84"/>
<rect x="402.14" y="399.98" width="5.19" height="5.19" fill="#002472"/>
<rect x="407.28" y="399.98" width="5.19" height="5.19" fill="#000343"/>
<rect x="412.42" y="399.98" width="5.19" height="5.19" fill="#00002d"/>
<rect x="417.56" y="399.98" width="5.19" height="5.19" fill="#000026"/>
<rect x="350.74" y="405.12" width="5.19" height="5.19" fill="#000037"/>
<rect x="355.88" y="405.12" width="5.19" height="5.19" fill="#000c55"/>
<rect x="361.02" y="405.12" width="5.19" height="5.19" fill="#00367d"/>
<rect x="366.16" y="405.12" width="5.19" height="5.19" fill="#005e84"/>
<rect x="371.30" y="405.12" width="5.19" height="5.19" fill="#00757c"/>
<rect x="376.44" y="405.12" width="5.19" height="5.19" fill="#007c76"/>
<rect x="381.58" y="405.12" width="5.19" height="5.19" fill="#007a78"/>
<rect x="386.72" y="405.12" width="5.19" height="5.19" fill="#006f82"/>
<rect x="391.86" y="405.12" width="5.19" height="5.19" fill="#004d86"/>
<rect x="397.00" y="405.12" width="5.19" height="5.19" fill="#001f6e"/>
<rect x="402.14" y="405.12" width="5.19" height="5.19" fill="#000344"/>
<rect x="407.28" y="405.12" width="5.19" height="5.19" fill="#000030"/>
<rect x="412.42" y="405.12" width="5.19" height="5.19" fill="#000026"/>
<rect x="350.74" y="410.26" width="5.19" height="5.19" fill="#000031"/>
<rect x="355.88" y="410.26" width="5.19" height="5.19" fill="#000342"/>
<rect x="361.02" y="410.26" width="5.19" height="5.19" fill="#001561"/>
<rect x="366.16" y="410.26" width="5.19" height="5.19" fill="#00327a"/>
<rect x="371.30" y="410.26" width="5.19" height="5.19" fill="#004887"/>
<rect x="376.44" y="410.26" width="5.19" height="5.19" fill="#004f86"/>
<rect x="381.58" y="410.26" width="5.19" height="5.19" fill="#004787"/>
<rect x="386.72" y="410.26" width="5.19" height="5.19" fill="#00327a"/>
<rect x="391.86" y="410.26" width="5.19" height="5.19" fill="#001460"/>
<rect x="397.00" y="410.26" width="5.19" height="5.19" fill="#000342"/>
<rect x="402.14" y="410.26" width="5.19" height="5.19" fill="#000031"/>
<rect x="407.28" y="410.26" width="5.19" height="5.19" fill="#000026"/>
<rect x="355.88" y="415.40" width="5.19" height="5.19" fill="#000035"/>
<rect x="361.02" y="415.40" width="5.19" height="5.19" fill="#000344"/>
<rect x="366.16" y="415.40" width="5.19" height="5.19" fill="#000d56"/>
<rect x="371.30" y="415.40" width="5.19" height="5.19" fill="#001865"/>
<rect x="376.44" y="415.40" width="5.19" height="5.19" fill="#001968"/>
<rect x="381.58" y="415.40" width="5.19" height="5.19" fill="#00135e"/>
<rect x="386.72" y="415.40" width="5.19" height="5.19" fill="#00054a"/>
<rect x="391.86" y="415.40" width="5.19" height="5.19" fill="#00013c"/>
<rect x="397.00" y="415.40" width="5.19" height="5.19" fill="#00002f"/>
<rect x="402.14" y="415.40" width="5.19" height="5.19" fill="#000026"/>
<rect x="355.88" y="420.54" width="5.19" height="5.19" fill="#00002d"/>
<rect x="361.02" y="420.54" width="5.19" height="5.19" fill="#000035"/>
<rect x="366.16" y="420.54" width="5.19" height="5.19" fill="#00013d"/>
<rect x="371.30" y="420.54" width="5.19" height="5.19" fill="#000342"/>
<rect x="376.44" y="420.54" width="5.19" height="5.19" fill="#000341"/>
<rect x="381.58" y="420.54" width="5.19" height="5.19" fill="#00013c"/>
<rect x="386.72" y="420.54" width="5.19" height="5.19" fill="#000034"/>
<rect x="391.86" y="420.54" width="5.19" height="5.19" fill="#00002c"/>
<rect x="397.00" y="420.54" width="5.19" height="5.19" fill="#000026"/>
<rect x="361.02" y="425.68" width="5.19" height="5.19" fill="#00002b"/>
<rect x="366.16" y="425.68" width="5.19" height="5.19" fill="#00002f"/>
<rect x="371.30" y="425.68" width="5.19" height="5.19" fill="#000031"/>
<rect x="376.44" y="425.68" width="5.19" height="5.19" fill="#000030"/>
<rect x="381.58" y="425.68" width="5.19" height="5.19" fill="#00002d"/>
<rect x="386.72" y="425.68" width="5.19" height="5.19" fill="#000027"/>
<rect x="391.86" y="425.68" width="5.19" height="5.19" fill="#000026"/>
<rect x="371.30" y="430.82" width="5.19" height="5.19" fill="#000026"/>
<rect x="376.44" y="430.82" width="5.19" height="5.19" fill="#000026"/>
<rect x="381.58" y="430.82" width="5.19" height="5.19" fill="#000026"/>
</g>
<path d="M185.3 601.9H204.8 M181.7 605.8H207.4 M179.0 609.6H209.1 M176.8 613.4H210.3 M174.9 617.3H211.1 M173.3 621.1H211.6 M172.0 625.0H211.9 M170.9 628.9H212.0 M170.0 632.7H211.9 M169.2 636.5H211.6 M168.6 640.4H211.1 M168.3 644.2H210.5 M168.0 648.1H209.7 M168.0 651.9H208.7 M168.2 655.8H207.5 M168.6 659.6H206.0 M169.2 663.5H204.3 M170.2 667.4H202.3 M171.6 671.2H199.9 M173.6 675.0H196.9 M176.7 678.9H192.7" stroke="#f6f420" stroke-width="0.8" opacity="0.85" fill="none"/>
<ellipse cx="190.0" cy="639.6" rx="21.0" ry="42.94" transform="rotate(10.1 190.0 639.6)" fill="none" stroke="#f6f420" stroke-width="1.1"/>
<g fill="none" stroke="#f6f420" stroke-width="1.8" stroke-linejoin="round">
<path d="M418.8 289.0 L419.8 289.1 L420.8 289.3 L421.8 289.6 L422.7 290.0 L423.6 290.4 L424.4 290.9 L425.2 291.5 L426.0 292.1 L426.8 292.8 L427.5 293.5 L428.1 294.3 L428.8 295.2 L429.4 296.1 L430.0 297.0 L430.5 298.0 L431.0 299.0 L431.5 300.0 L431.9 301.1 L432.3 302.2 L432.7 303.3 L433.0 304.4 L433.3 305.6 L433.6 306.7 L433.8 307.9 L434.0 309.1 L434.2 310.2 L434.3 311.4 L434.4 312.6 L434.4 313.7 L434.5 314.9 L434.5 316.0 L434.4 317.1 L434.4 318.3 L434.3 319.4 L434.2 320.5 L434.0 321.6 L433.9 322.7 L433.7 323.8 L433.5 324.9 L433.2 326.0 L433.0 327.1 L432.7 328.2 L432.4 329.2 L432.1 330.3 L431.7 331.4 L431.4 332.4 L431.0 333.5 L430.6 334.5 L430.2 335.5 L429.8 336.6 L429.4 337.6 L428.9 338.6 L428.5 339.6 L428.0 340.6 L427.5 341.6 L427.1 342.6 L426.6 343.6 L426.1 344.6 L425.6 345.6 L425.1 346.6 L424.6 347.5 L424.1 348.5 L423.5 349.5 L423.0 350.4 L422.5 351.4 L422.0 352.3 L421.4 353.3 L420.9 354.2 L420.3 355.1 L419.8 356.1 L419.2 357.0 L418.6 357.9 L418.1 358.9 L417.5 359.8 L416.9 360.7 L416.3 361.6 L415.7 362.5 L415.1 363.4 L414.5 364.3 L413.9 365.2 L413.2 366.1 L412.6 367.1 L412.0 368.0 L411.3 368.9 L410.7 369.8 L410.0 370.7 L409.3 371.6 L408.6 372.5 L407.9 373.3 L407.3 374.2 L406.6 375.1 L405.8 376.0 L405.1 376.9 L404.4 377.8 L403.7 378.7 L402.9 379.6 L402.2 380.5 L401.4 381.4 L400.6 382.3 L399.8 383.2 L399.0 384.0 L398.2 384.9 L397.4 385.7 L396.5 386.5 L395.7 387.3 L394.8 388.0 L393.9 388.7 L393.0 389.4 L392.1 390.0 L391.2 390.6 L390.2 391.1 L389.2 391.6 L388.2 392.1 L387.2 392.5 L386.2 392.8 L385.1 393.1 L384.0 393.3 L383.0 393.4 L381.9 393.5 L380.8 393.5 L379.8 393.4 L378.8 393.2 L377.9 393.0 L377.0 392.6 L376.1 392.2 L375.2 391.7 L374.4 391.1 L373.7 390.5 L373.0 389.8 L372.3 389.0 L371.6 388.2 L371.0 387.4 L370.4 386.4 L369.9 385.5 L369.4 384.5 L368.9 383.5 L368.5 382.4 L368.1 381.3 L367.7 380.2 L367.4 379.1 L367.1 377.9 L366.8 376.8 L366.6 375.6 L366.4 374.4 L366.2 373.3 L366.0 372.1 L365.9 370.9 L365.9 369.8 L365.8 368.6 L365.8 367.5 L365.8 366.4 L365.8 365.2 L365.9 364.1 L366.0 363.0 L366.1 361.9 L366.2 360.8 L366.4 359.7 L366.6 358.6 L366.8 357.5 L367.0 356.4 L367.2 355.3 L367.5 354.2 L367.8 353.2 L368.1 352.1 L368.4 351.0 L368.7 350.0 L369.1 348.9 L369.5 347.9 L369.8 346.8 L370.2 345.8 L370.6 344.8 L371.1 343.8 L371.5 342.7 L371.9 341.7 L372.4 340.7 L372.8 339.7 L373.3 338.7 L373.8 337.7 L374.2 336.7 L374.7 335.7 L375.2 334.8 L375.7 333.8 L376.2 332.8 L376.7 331.8 L377.3 330.9 L377.8 329.9 L378.3 328.9 L378.9 328.0 L379.4 327.0 L380.0 326.1 L380.6 325.1 L381.1 324.2 L381.7 323.3 L382.3 322.3 L382.9 321.4 L383.4 320.4 L384.0 319.5 L384.6 318.6 L385.3 317.7 L385.9 316.7 L386.5 315.8 L387.1 314.9 L387.7 313.9 L388.4 313.0 L389.0 312.1 L389.6 311.2 L390.3 310.3 L390.9 309.3 L391.6 308.4 L392.2 307.5 L392.9 306.6 L393.5 305.6 L394.2 304.7 L394.9 303.8 L395.5 302.9 L396.2 302.0 L396.9 301.1 L397.7 300.3 L398.4 299.4 L399.1 298.6 L399.9 297.7 L400.7 297.0 L401.5 296.2 L402.3 295.4 L403.2 294.7 L404.1 294.0 L405.0 293.4 L405.9 292.7 L406.9 292.2 L407.9 291.6 L408.9 291.1 L409.9 290.6 L411.0 290.2 L412.1 289.8 L413.3 289.5 L414.4 289.3 L415.5 289.1 L416.6 289.0 L417.7 288.9Z"/>
<path d="M425.0 269.9 L427.0 270.6 L429.0 271.4 L430.9 272.5 L432.7 273.7 L434.5 275.1 L436.2 276.7 L437.7 278.5 L439.2 280.5 L440.5 282.7 L441.8 285.1 L443.0 287.5 L444.0 290.2 L445.0 292.9 L445.9 295.8 L446.7 298.8 L447.3 302.0 L447.7 305.3 L448.0 308.9 L448.0 312.6 L447.7 316.4 L447.1 320.3 L446.3 324.3 L445.2 328.3 L444.0 332.2 L442.6 336.1 L441.0 339.8 L439.4 343.4 L437.8 346.9 L436.1 350.3 L434.5 353.5 L432.9 356.7 L431.2 359.8 L429.6 362.8 L427.9 365.6 L426.1 368.4 L424.4 371.1 L422.5 373.6 L420.6 376.0 L418.8 378.2 L416.8 380.3 L415.0 382.4 L413.1 384.4 L411.2 386.4 L409.3 388.5 L407.5 390.7 L405.6 393.0 L403.7 395.3 L401.6 397.7 L399.6 400.1 L397.4 402.4 L395.2 404.6 L392.9 406.6 L390.6 408.4 L388.2 409.9 L385.8 411.1 L383.4 412.0 L381.1 412.7 L378.8 413.1 L376.4 413.4 L374.1 413.4 L371.8 413.3 L369.6 413.0 L367.3 412.5 L365.2 411.8 L363.1 410.7 L361.2 409.3 L359.5 407.5 L357.9 405.4 L356.6 402.9 L355.6 400.0 L354.8 396.9 L354.2 393.5 L353.9 390.0 L353.8 386.4 L353.7 382.7 L353.8 379.0 L354.0 375.3 L354.1 371.7 L354.4 368.1 L354.6 364.5 L354.8 361.0 L355.1 357.4 L355.4 353.8 L355.9 350.1 L356.4 346.4 L357.1 342.6 L358.0 338.9 L358.9 335.1 L360.1 331.3 L361.4 327.6 L362.8 324.0 L364.3 320.4 L366.0 316.9 L367.7 313.4 L369.5 310.1 L371.3 306.8 L373.2 303.5 L375.1 300.3 L377.0 297.2 L379.0 294.1 L381.1 291.0 L383.2 287.9 L385.4 285.0 L387.7 282.2 L390.0 279.5 L392.4 277.0 L394.9 274.8 L397.3 272.9 L399.9 271.3 L402.4 270.0 L404.8 269.1 L407.3 268.4 L409.7 268.0 L412.0 267.9 L414.3 267.9 L416.5 268.1 L418.7 268.4 L420.8 268.8 L422.9 269.3Z"/>
<path d="M430.1 255.3 L432.6 256.1 L434.9 257.3 L437.1 258.7 L439.2 260.4 L441.2 262.4 L443.0 264.6 L444.7 266.9 L446.4 269.4 L448.0 272.0 L449.6 274.6 L451.2 277.3 L452.8 280.0 L454.4 282.9 L456.0 285.9 L457.4 289.1 L458.6 292.7 L459.5 296.6 L460.1 300.8 L460.2 305.3 L460.0 310.1 L459.3 315.0 L458.2 320.0 L456.8 325.0 L455.2 329.9 L453.4 334.8 L451.5 339.5 L449.6 344.0 L447.7 348.4 L445.8 352.7 L443.9 356.8 L441.9 360.9 L440.0 364.9 L438.0 368.8 L435.8 372.5 L433.6 376.1 L431.3 379.5 L428.9 382.7 L426.5 385.7 L424.1 388.5 L421.6 391.2 L419.2 393.8 L416.8 396.4 L414.4 399.0 L412.0 401.7 L409.6 404.4 L407.2 407.1 L404.7 409.9 L402.2 412.5 L399.5 415.1 L396.9 417.4 L394.1 419.4 L391.4 421.2 L388.6 422.7 L385.8 424.0 L383.0 425.1 L380.2 426.1 L377.4 427.0 L374.5 427.8 L371.6 428.5 L368.6 429.1 L365.6 429.5 L362.6 429.6 L359.7 429.4 L356.9 428.7 L354.3 427.5 L352.0 425.7 L349.9 423.2 L348.3 420.2 L347.0 416.6 L346.1 412.7 L345.5 408.4 L345.2 403.9 L345.2 399.3 L345.3 394.7 L345.5 390.1 L345.7 385.7 L345.9 381.3 L346.1 377.1 L346.4 372.8 L346.6 368.7 L346.8 364.5 L347.1 360.3 L347.5 356.0 L348.0 351.7 L348.8 347.3 L349.7 342.9 L350.8 338.5 L352.1 334.1 L353.6 329.7 L355.2 325.5 L357.0 321.3 L358.9 317.2 L360.9 313.2 L362.9 309.3 L364.9 305.4 L366.9 301.5 L369.0 297.6 L371.1 293.7 L373.2 289.6 L375.3 285.6 L377.6 281.5 L379.9 277.4 L382.5 273.4 L385.1 269.6 L387.9 266.0 L390.8 262.9 L393.8 260.1 L396.8 257.8 L399.9 256.0 L402.9 254.7 L405.9 253.9 L408.8 253.4 L411.7 253.2 L414.5 253.1 L417.2 253.3 L419.8 253.5 L422.5 253.8 L425.1 254.2 L427.6 254.6Z"/>
<path d="M434.4 243.1 L437.2 244.2 L439.8 245.6 L442.3 247.2 L444.7 249.2 L447.0 251.4 L449.1 253.9 L451.1 256.5 L453.0 259.2 L455.0 262.0 L457.0 264.8 L459.0 267.7 L461.1 270.5 L463.3 273.4 L465.5 276.5 L467.7 279.8 L469.8 283.5 L471.6 287.5 L473.1 292.0 L474.2 297.0 L474.7 302.4 L474.6 308.2 L474.0 314.3 L472.8 320.5 L471.1 326.7 L468.9 332.9 L466.4 338.9 L463.7 344.8 L460.8 350.4 L457.9 355.7 L454.8 360.7 L451.7 365.5 L448.7 370.0 L445.6 374.3 L442.5 378.3 L439.4 382.0 L436.3 385.5 L433.2 388.8 L430.2 391.9 L427.3 394.8 L424.4 397.6 L421.7 400.5 L419.0 403.4 L416.3 406.5 L413.7 409.7 L411.0 413.0 L408.3 416.4 L405.4 419.9 L402.5 423.2 L399.5 426.4 L396.4 429.3 L393.2 431.8 L390.0 434.0 L386.8 435.7 L383.6 437.1 L380.4 438.2 L377.2 439.0 L374.0 439.7 L370.8 440.3 L367.6 440.7 L364.3 441.0 L361.1 441.2 L357.8 441.0 L354.7 440.4 L351.7 439.3 L348.9 437.6 L346.5 435.3 L344.4 432.3 L342.8 428.7 L341.5 424.5 L340.7 419.9 L340.1 415.1 L339.9 410.0 L339.9 405.0 L339.9 399.9 L340.1 395.0 L340.2 390.2 L340.3 385.6 L340.3 381.0 L340.3 376.4 L340.4 371.8 L340.6 367.2 L340.8 362.5 L341.3 357.8 L341.9 352.9 L342.8 348.0 L343.9 343.1 L345.2 338.2 L346.8 333.3 L348.5 328.5 L350.3 323.7 L352.2 319.0 L354.3 314.5 L356.4 309.9 L358.5 305.5 L360.7 301.1 L363.0 296.7 L365.2 292.3 L367.6 287.9 L370.0 283.5 L372.5 279.1 L375.1 274.7 L377.8 270.3 L380.6 266.0 L383.5 261.8 L386.6 257.9 L389.8 254.2 L393.1 250.9 L396.5 248.1 L399.9 245.7 L403.3 243.7 L406.7 242.3 L410.1 241.3 L413.4 240.7 L416.6 240.4 L419.7 240.4 L422.8 240.6 L425.8 241.0 L428.7 241.5 L431.6 242.2Z"/>
<path d="M437.8 233.7 L440.7 235.0 L443.6 236.5 L446.5 238.1 L449.2 239.9 L451.9 242.0 L454.5 244.2 L457.0 246.7 L459.4 249.4 L461.8 252.2 L464.2 255.1 L466.7 258.1 L469.2 261.2 L471.9 264.3 L474.6 267.5 L477.5 271.0 L480.3 274.8 L483.1 279.0 L485.7 283.7 L487.8 288.9 L489.5 294.8 L490.5 301.3 L490.7 308.2 L490.1 315.6 L488.7 323.1 L486.5 330.8 L483.6 338.4 L480.1 345.7 L476.2 352.7 L471.9 359.2 L467.5 365.2 L462.9 370.7 L458.4 375.8 L454.0 380.3 L449.7 384.5 L445.6 388.4 L441.6 392.0 L437.9 395.4 L434.3 398.6 L430.9 401.7 L427.6 404.9 L424.5 408.0 L421.4 411.3 L418.4 414.7 L415.4 418.2 L412.4 421.8 L409.3 425.6 L406.1 429.3 L402.9 433.0 L399.5 436.5 L396.0 439.7 L392.5 442.6 L388.9 445.1 L385.3 447.2 L381.6 448.8 L378.1 450.1 L374.5 450.9 L371.0 451.4 L367.5 451.7 L364.1 451.7 L360.7 451.4 L357.3 450.9 L354.1 449.9 L351.0 448.6 L348.1 446.7 L345.4 444.3 L343.1 441.3 L341.1 437.8 L339.5 433.7 L338.2 429.2 L337.3 424.4 L336.7 419.3 L336.3 414.2 L336.0 409.0 L335.8 404.0 L335.6 399.0 L335.4 394.1 L335.2 389.3 L335.0 384.5 L334.8 379.7 L334.7 374.8 L334.7 369.8 L335.0 364.7 L335.5 359.4 L336.3 354.1 L337.3 348.7 L338.6 343.3 L340.1 337.9 L341.8 332.5 L343.6 327.2 L345.6 322.0 L347.6 316.9 L349.7 311.8 L351.9 306.7 L354.2 301.7 L356.6 296.8 L359.0 291.9 L361.6 287.2 L364.3 282.5 L367.1 277.9 L370.0 273.5 L373.0 269.1 L376.0 264.8 L379.2 260.5 L382.4 256.3 L385.7 252.3 L389.1 248.3 L392.6 244.6 L396.2 241.1 L399.9 238.0 L403.7 235.3 L407.4 233.2 L411.1 231.5 L414.8 230.4 L418.4 229.8 L421.9 229.7 L425.2 230.0 L428.5 230.7 L431.7 231.5 L434.7 232.5Z"/>
<path d="M440.8 225.2 L444.0 226.5 L447.3 227.8 L450.5 229.2 L453.7 230.8 L456.9 232.6 L460.0 234.6 L463.0 236.9 L465.8 239.6 L468.7 242.4 L471.4 245.6 L474.2 248.9 L477.0 252.3 L479.9 255.8 L482.9 259.4 L486.2 263.1 L489.6 267.1 L493.1 271.5 L496.6 276.3 L499.9 281.8 L502.8 287.9 L505.2 294.8 L506.8 302.4 L507.5 310.6 L507.1 319.4 L505.7 328.5 L503.2 337.7 L499.6 346.8 L495.2 355.5 L490.1 363.7 L484.5 371.2 L478.6 378.0 L472.5 384.1 L466.5 389.4 L460.6 394.0 L455.0 398.2 L449.8 401.9 L444.8 405.2 L440.2 408.5 L435.9 411.6 L431.9 414.7 L428.1 417.9 L424.5 421.2 L420.9 424.7 L417.4 428.2 L414.0 431.8 L410.4 435.5 L406.9 439.2 L403.2 442.7 L399.5 446.2 L395.7 449.4 L391.8 452.3 L387.9 454.8 L383.9 457.0 L380.0 458.7 L376.1 460.0 L372.2 460.9 L368.4 461.3 L364.7 461.3 L361.1 461.0 L357.6 460.2 L354.2 459.0 L351.0 457.4 L347.9 455.3 L345.1 452.7 L342.6 449.7 L340.3 446.3 L338.3 442.3 L336.7 438.0 L335.3 433.4 L334.2 428.6 L333.3 423.6 L332.6 418.5 L332.0 413.4 L331.4 408.3 L331.0 403.2 L330.5 398.2 L330.1 393.1 L329.7 388.1 L329.4 382.9 L329.3 377.6 L329.4 372.1 L329.7 366.6 L330.3 360.9 L331.1 355.1 L332.3 349.3 L333.6 343.4 L335.2 337.6 L337.0 331.8 L338.9 326.1 L341.0 320.4 L343.2 314.8 L345.4 309.3 L347.8 303.8 L350.3 298.3 L352.9 293.0 L355.6 287.8 L358.4 282.6 L361.4 277.7 L364.5 272.8 L367.7 268.1 L370.9 263.5 L374.3 259.1 L377.7 254.7 L381.2 250.3 L384.7 246.1 L388.4 242.0 L392.2 238.0 L396.0 234.3 L399.9 230.9 L403.9 227.9 L408.0 225.4 L412.0 223.5 L415.9 222.1 L419.8 221.4 L423.6 221.2 L427.2 221.5 L430.7 222.1 L434.1 223.0 L437.5 224.1Z"/>
<path d="M444.0 216.1 L447.5 217.4 L451.0 218.9 L454.4 220.6 L457.8 222.3 L461.2 224.3 L464.6 226.4 L467.9 228.7 L471.3 231.2 L474.6 234.0 L477.9 236.9 L481.2 240.1 L484.6 243.5 L488.0 247.1 L491.5 250.9 L495.2 255.0 L499.0 259.4 L502.8 264.3 L506.6 269.6 L510.4 275.5 L513.9 282.2 L516.9 289.6 L519.4 297.8 L521.0 306.8 L521.6 316.5 L521.1 326.7 L519.4 337.2 L516.3 347.7 L512.0 358.0 L506.5 367.8 L500.1 376.8 L493.0 384.8 L485.4 391.7 L477.6 397.4 L469.9 402.1 L462.5 405.9 L455.6 409.0 L449.3 411.6 L443.6 414.0 L438.5 416.6 L434.0 419.4 L429.8 422.6 L426.0 426.2 L422.4 430.2 L418.7 434.6 L415.1 439.2 L411.4 443.7 L407.5 448.1 L403.5 452.2 L399.4 455.8 L395.3 459.0 L391.1 461.7 L386.9 463.9 L382.7 465.6 L378.6 467.0 L374.5 468.0 L370.4 468.7 L366.4 469.1 L362.4 469.1 L358.6 468.7 L354.8 467.9 L351.3 466.6 L347.9 464.7 L344.8 462.2 L342.0 459.1 L339.5 455.5 L337.4 451.5 L335.5 447.0 L333.9 442.3 L332.5 437.4 L331.4 432.4 L330.3 427.3 L329.3 422.3 L328.4 417.2 L327.5 412.2 L326.7 407.1 L325.9 402.0 L325.3 396.7 L324.9 391.3 L324.6 385.8 L324.5 380.1 L324.7 374.2 L325.2 368.2 L325.9 362.1 L326.8 356.0 L328.0 349.8 L329.4 343.6 L331.0 337.4 L332.8 331.2 L334.7 325.0 L336.8 318.9 L339.0 312.9 L341.5 306.9 L344.0 301.1 L346.8 295.3 L349.6 289.7 L352.6 284.2 L355.7 278.8 L359.0 273.6 L362.3 268.5 L365.7 263.5 L369.1 258.6 L372.7 253.9 L376.3 249.2 L380.0 244.5 L383.8 240.1 L387.7 235.7 L391.7 231.6 L395.8 227.8 L400.0 224.3 L404.2 221.2 L408.4 218.6 L412.7 216.5 L416.9 214.9 L421.1 213.8 L425.1 213.3 L429.1 213.1 L433.0 213.4 L436.7 214.1 L440.4 215.0Z"/>
<path d="M399.0 464.3 L397.8 465.2 L396.6 466.1 L395.3 467.0 L394.1 467.8 L392.8 468.6 L391.5 469.4 L390.1 470.2 L388.8 470.9 L387.4 471.5 L386.0 472.2 L384.6 472.8 L383.1 473.3 L381.6 473.8 L380.2 474.3 L378.7 474.8 L377.2 475.2 L375.7 475.5 L374.1 475.8 L372.6 476.1 L371.1 476.4 L369.5 476.6 L368.0 476.7 L366.4 476.8 L364.8 476.9 L363.3 476.9 L361.7 476.9 L360.2 476.8 L358.6 476.6 L357.1 476.4 L355.6 476.2 L354.2 475.8 L352.7 475.4 L351.3 474.8 L350.0 474.2 L348.7 473.5 L347.4 472.6 L346.2 471.7 L345.1 470.7 L344.0 469.6 L342.9 468.5 L341.9 467.3 L341.0 466.0 L340.0 464.8 L339.2 463.5 L338.3 462.2 L337.5 460.9 L336.7 459.5 L336.0 458.2 L335.3 456.8 L334.6 455.4 L334.0 454.1 L333.4 452.7 L332.8 451.2 L332.3 449.8 L331.7 448.4 L331.2 447.0 L330.7 445.5 L330.3 444.1 L329.8 442.6 L329.4 441.1 L329.0 439.7 L328.6 438.2 L328.2 436.7 L327.8 435.2 L327.5 433.7 L327.1 432.2 L326.8 430.7 L326.5 429.2 L326.1 427.7 L325.8 426.2 L325.5 424.7 L325.2 423.1 L324.9 421.6 L324.6 420.1 L324.3 418.6 L324.0 417.1 L323.7 415.5 L323.4 414.0 L323.2 412.5 L322.9 411.0 L322.7 409.4 L322.4 407.9 L322.2 406.4 L322.0 404.9 L321.8 403.3 L321.6 401.8 L321.4 400.3 L321.2 398.7 L321.0 397.2 L320.9 395.7 L320.7 394.1 L320.6 392.6 L320.5 391.1 L320.4 389.6 L320.3 388.0 L320.3 386.5 L320.2 385.0 L320.2 383.4 L320.2 381.9 L320.2 380.4 L320.2 378.9 L320.2 377.3 L320.3 375.8 L320.4 374.3 L320.4 372.8 L320.5 371.2 L320.7 369.7 L320.8 368.2 L320.9 366.7 L321.1 365.1 L321.2 363.6 L321.4 362.1 L321.6 360.6 L321.8 359.1 L322.0 357.6 L322.3 356.1 L322.5 354.6 L322.8 353.0 L323.1 351.5 L323.4 350.0 L323.7 348.5 L324.0 347.0 L324.3 345.5 L324.6 344.0 L325.0 342.5 L325.4 341.1 L325.7 339.6 L326.1 338.1 L326.5 336.6 L326.9 335.1 L327.4 333.6 L327.8 332.2 L328.2 330.7 L328.7 329.2 L329.2 327.7 L329.6 326.3 L330.1 324.8 L330.6 323.3 L331.1 321.9 L331.6 320.4 L332.2 319.0 L332.7 317.5 L333.2 316.1 L333.8 314.6 L334.4 313.2 L334.9 311.8 L335.5 310.3 L336.1 308.9 L336.7 307.5 L337.3 306.1 L337.9 304.6 L338.6 303.2 L339.2 301.8 L339.8 300.4 L340.5 299.0 L341.1 297.6 L341.8 296.2 L342.5 294.8 L343.2 293.4 L343.8 292.0 L344.5 290.7 L345.2 289.3 L345.9 287.9 L346.7 286.6 L347.4 285.2 L348.1 283.8 L348.8 282.5 L349.6 281.1 L350.3 279.8 L351.1 278.5 L351.8 277.1 L352.6 275.8 L353.4 274.5 L354.2 273.2 L355.0 271.8 L355.8 270.5 L356.6 269.2 L357.4 267.9 L358.2 266.6 L359.0 265.3 L359.9 264.1 L360.7 262.8 L361.6 261.5 L362.4 260.2 L363.3 259.0 L364.2 257.7 L365.0 256.5 L365.9 255.2 L366.8 254.0 L367.7 252.7 L368.6 251.5 L369.6 250.3 L370.5 249.1 L371.4 247.8 L372.3 246.6 L373.3 245.4 L374.2 244.2 L375.2 243.0 L376.2 241.9 L377.2 240.7 L378.1 239.5 L379.1 238.3 L380.1 237.2 L381.1 236.0 L382.1 234.9 L383.2 233.7 L384.2 232.6 L385.2 231.5 L386.3 230.3 L387.3 229.2 L388.4 228.1 L389.5 227.0 L390.5 225.9 L391.6 224.8 L392.7 223.7 L393.8 222.6 L394.9 221.6 L396.0 220.5 L397.1 219.4 L398.3 218.4 L399.4 217.3 L400.6 216.3 L401.7 215.3 L402.9 214.4 L404.1 213.4 L405.4 212.5 L406.6 211.6 L407.9 210.8 L409.2 210.0 L410.6 209.2 L411.9 208.5 L413.3 207.9 L414.7 207.3 L416.2 206.7 L417.7 206.2 L419.2 205.8 L420.7 205.4 L422.3 205.1 L423.8 204.8 L425.3 204.7 L426.9 204.5 L428.4 204.5 L430.0 204.5 L431.5 204.6 L433.0 204.7 L434.5 205.0 L436.0 205.2 L437.5 205.6 L438.9 205.9 L440.4 206.3 L441.8 206.8 L443.3 207.2 L444.7 207.7 L446.2 208.2 L447.6 208.7 L449.1 209.2 L450.6 209.7 L452.0 210.3 L453.5 210.8 L454.9 211.4 L456.4 211.9 L457.8 212.5 L459.2 213.1 L460.6 213.7 L462.0 214.4 L463.5 215.0 L464.8 215.7 L466.2 216.3 L467.6 217.0 L469.0 217.8 L470.3 218.5 L471.7 219.2 L473.0 220.0 L474.3 220.8 L475.7 221.6 L477.0 222.4 L478.3 223.2 L479.6 224.0 L480.8 224.9 L482.1 225.8 L483.3 226.6 L484.6 227.5 L485.8 228.5 L487.0 229.4 L488.2 230.3 L489.4 231.3 L490.6 232.3 L491.8 233.2 L492.9 234.2 L494.1 235.3 L495.2 236.3 L496.3 237.3 L497.4 238.4 L498.5 239.5 L499.6 240.5 L500.7 241.6 L501.7 242.7 L502.8 243.9 L503.8 245.0 L504.8 246.2 L505.8 247.3 L506.8 248.5 L507.7 249.7 L508.7 250.9 L509.6 252.1 L510.5 253.3 L511.4 254.6 L512.3 255.8 L513.2 257.1 L514.0 258.4 L514.9 259.6 L515.7 260.9 L516.5 262.3 L517.3 263.6 L518.1 264.9 L518.8 266.3 L519.6 267.6 L520.3 269.0 L521.0 270.3 L521.7 271.7 L522.3 273.1 L523.0 274.5 L523.6 275.9 L524.2 277.4 L524.8 278.8 L525.4 280.2 L526.0 281.7 L526.5 283.1 L527.0 284.6 L527.5 286.1 L528.0 287.5 L528.5 289.0 L528.9 290.5 L529.3 292.0 L529.8 293.5 L530.1 295.0 L530.5 296.5 L530.9 298.0 L531.2 299.5 L531.5 301.0 L531.8 302.5 L532.0 304.1 L532.3 305.6 L532.5 307.1 L532.7 308.6 L532.9 310.2 L533.1 311.7 L533.2 313.2 L533.3 314.8 L533.4 316.3 L533.5 317.8 L533.6 319.3 L533.6 320.9 L533.6 322.4 L533.6 323.9 L533.6 325.5 L533.5 327.0 L533.5 328.5 L533.4 330.0 L533.2 331.6 L533.1 333.1 L532.9 334.6 L532.8 336.1 L532.5 337.6 L532.3 339.1 L532.1 340.6 L531.8 342.1 L531.5 343.6 L531.2 345.1 L530.8 346.5 L530.5 348.0 L530.1 349.5 L529.7 351.0 L529.3 352.4 L528.9 353.9 L528.5 355.4 L528.0 356.9 L527.6 358.3 L527.1 359.8 L526.7 361.2 L526.2 362.7 L525.7 364.2 L525.2 365.6 L524.7 367.1 L524.1 368.5 L523.6 370.0 L523.1 371.4 L522.6 372.9 L522.0 374.4 L521.5 375.8 L520.9 377.3 L520.4 378.7 L519.9 380.2 L519.3 381.7 L518.8 383.1 L518.3 384.6 L517.7 386.1 L517.2 387.5 L516.6 389.0 L516.1 390.5 L515.6 391.9 L515.0 393.4 L514.4 394.8 L513.8 396.2 L513.3 397.6 L512.6 399.1 L512.0 400.4 L511.3 401.8 L510.7 403.2 L510.0 404.5 L509.2 405.8 L508.5 407.1 L507.6 408.4 L506.8 409.6 L505.9 410.8 L505.0 412.0 L504.1 413.1 L503.0 414.1 L501.9 415.0 L500.7 415.7 L499.3 416.2 L497.8 416.5 L496.3 416.7 L494.7 416.8 L493.1 416.9 L491.5 417.1 L490.0 417.4 L488.5 417.8 L487.1 418.3 L485.7 418.9 L484.3 419.6 L483.0 420.4 L481.7 421.3 L480.4 422.2 L479.1 423.2 L477.8 424.1 L476.4 425.0 L475.1 425.8 L473.7 426.6 L472.3 427.1 L470.9 427.5 L469.5 427.7 L468.0 427.7 L466.6 427.5 L465.2 427.1 L463.8 426.5 L462.4 425.9 L460.9 425.2 L459.5 424.5 L458.0 423.9 L456.4 423.4 L454.9 422.9 L453.4 422.6 L451.9 422.3 L450.4 422.1 L448.9 422.1 L447.4 422.1 L446.0 422.2 L444.6 422.5 L443.1 422.8 L441.8 423.2 L440.4 423.7 L439.0 424.2 L437.7 424.9 L436.4 425.6 L435.1 426.4 L433.8 427.2 L432.5 428.1 L431.3 429.0 L430.1 430.0 L428.9 431.0 L427.7 432.1 L426.5 433.2 L425.4 434.3 L424.2 435.5 L423.1 436.7 L422.1 437.9 L421.0 439.1 L420.0 440.3 L418.9 441.5 L417.9 442.7 L416.9 444.0 L416.0 445.2 L415.0 446.4 L414.0 447.6 L413.1 448.8 L412.2 450.0 L411.2 451.2 L410.3 452.4 L409.3 453.6 L408.3 454.8 L407.4 455.9 L406.4 457.0 L405.4 458.1 L404.4 459.2 L403.3 460.3 L402.3 461.3 L401.2 462.4 L400.1 463.3Z"/>
<path d="M394.5 476.3 L393.4 477.0 L392.2 477.5 L391.0 478.1 L389.8 478.6 L388.6 479.1 L387.4 479.6 L386.2 480.0 L384.9 480.4 L383.7 480.8 L382.4 481.2 L381.2 481.6 L379.9 481.9 L378.6 482.2 L377.4 482.5 L376.1 482.8 L374.8 483.1 L373.5 483.3 L372.3 483.6 L371.0 483.8 L369.7 484.0 L368.4 484.1 L367.1 484.2 L365.8 484.3 L364.5 484.4 L363.2 484.4 L361.9 484.3 L360.6 484.3 L359.2 484.2 L357.9 484.0 L356.6 483.8 L355.3 483.5 L354.0 483.2 L352.8 482.9 L351.5 482.5 L350.3 482.0 L349.1 481.5 L347.9 480.9 L346.8 480.3 L345.7 479.6 L344.7 478.8 L343.7 478.0 L342.7 477.1 L341.8 476.2 L340.9 475.2 L340.1 474.2 L339.3 473.2 L338.5 472.1 L337.7 471.1 L337.0 470.0 L336.3 468.8 L335.6 467.7 L335.0 466.6 L334.3 465.5 L333.7 464.3 L333.1 463.1 L332.6 462.0 L332.0 460.8 L331.5 459.6 L331.0 458.4 L330.5 457.2 L330.0 456.0 L329.6 454.8 L329.1 453.6 L328.7 452.3 L328.3 451.1 L327.9 449.8 L327.5 448.6 L327.1 447.4 L326.7 446.1 L326.4 444.8 L326.0 443.6 L325.7 442.3 L325.4 441.0 L325.0 439.8 L324.7 438.5 L324.4 437.2 L324.0 436.0 L323.7 434.7 L323.4 433.4 L323.1 432.1 L322.8 430.9 L322.5 429.6 L322.2 428.3 L321.9 427.0 L321.6 425.8 L321.3 424.5 L321.0 423.2 L320.7 421.9 L320.4 420.6 L320.2 419.4 L319.9 418.1 L319.6 416.8 L319.4 415.5 L319.1 414.2 L318.9 412.9 L318.7 411.7 L318.5 410.4 L318.2 409.1 L318.0 407.8 L317.8 406.5 L317.7 405.2 L317.5 403.9 L317.3 402.6 L317.2 401.4 L317.0 400.1 L316.9 398.8 L316.8 397.5 L316.7 396.2 L316.6 394.9 L316.5 393.6 L316.4 392.3 L316.3 391.0 L316.3 389.7 L316.2 388.4 L316.2 387.1 L316.2 385.8 L316.2 384.5 L316.2 383.2 L316.2 381.9 L316.2 380.6 L316.3 379.3 L316.3 378.0 L316.4 376.6 L316.4 375.3 L316.5 374.0 L316.6 372.7 L316.7 371.4 L316.8 370.1 L316.9 368.8 L317.0 367.5 L317.2 366.2 L317.3 364.9 L317.5 363.6 L317.6 362.3 L317.8 361.0 L318.0 359.7 L318.1 358.4 L318.3 357.1 L318.5 355.8 L318.7 354.5 L319.0 353.2 L319.2 351.9 L319.4 350.7 L319.7 349.4 L319.9 348.1 L320.2 346.8 L320.4 345.5 L320.7 344.2 L321.0 342.9 L321.2 341.7 L321.5 340.4 L321.8 339.1 L322.1 337.8 L322.4 336.6 L322.8 335.3 L323.1 334.0 L323.4 332.7 L323.8 331.5 L324.1 330.2 L324.5 329.0 L324.8 327.7 L325.2 326.4 L325.6 325.2 L326.0 323.9 L326.4 322.7 L326.8 321.5 L327.2 320.2 L327.6 319.0 L328.0 317.7 L328.4 316.5 L328.9 315.3 L329.3 314.0 L329.8 312.8 L330.2 311.6 L330.7 310.4 L331.2 309.2 L331.7 308.0 L332.2 306.8 L332.6 305.5 L333.2 304.3 L333.7 303.1 L334.2 302.0 L334.7 300.8 L335.3 299.6 L335.8 298.4 L336.3 297.2 L336.9 296.0 L337.5 294.9 L338.0 293.7 L338.6 292.5 L339.2 291.4 L339.8 290.2 L340.4 289.1 L341.0 287.9 L341.6 286.8 L342.2 285.6 L342.9 284.5 L343.5 283.3 L344.1 282.2 L344.8 281.1 L345.4 279.9 L346.1 278.8 L346.7 277.7 L347.4 276.6 L348.1 275.5 L348.8 274.3 L349.4 273.2 L350.1 272.1 L350.8 271.0 L351.5 269.9 L352.2 268.8 L352.9 267.7 L353.6 266.6 L354.4 265.5 L355.1 264.5 L355.8 263.4 L356.6 262.3 L357.3 261.2 L358.0 260.1 L358.8 259.1 L359.5 258.0 L360.3 256.9 L361.0 255.8 L361.8 254.8 L362.6 253.7 L363.3 252.6 L364.1 251.6 L364.9 250.5 L365.7 249.5 L366.5 248.4 L367.2 247.4 L368.0 246.3 L368.8 245.3 L369.6 244.2 L370.4 243.2 L371.2 242.2 L372.0 241.1 L372.9 240.1 L373.7 239.1 L374.5 238.0 L375.3 237.0 L376.1 236.0 L376.9 234.9 L377.8 233.9 L378.6 232.9 L379.4 231.9 L380.2 230.9 L381.1 229.8 L381.9 228.8 L382.7 227.8 L383.6 226.8 L384.4 225.8 L385.3 224.8 L386.1 223.8 L387.0 222.8 L387.8 221.8 L388.7 220.8 L389.6 219.8 L390.4 218.9 L391.3 217.9 L392.2 217.0 L393.1 216.0 L394.0 215.1 L394.9 214.2 L395.8 213.3 L396.8 212.4 L397.7 211.5 L398.7 210.6 L399.6 209.8 L400.6 208.9 L401.6 208.1 L402.6 207.3 L403.6 206.5 L404.7 205.8 L405.7 205.0 L406.8 204.3 L407.9 203.6 L409.0 202.9 L410.1 202.3 L411.2 201.6 L412.4 201.0 L413.6 200.4 L414.8 199.9 L416.0 199.3 L417.2 198.8 L418.4 198.3 L419.7 197.9 L421.0 197.5 L422.3 197.1 L423.5 196.8 L424.8 196.5 L426.1 196.3 L427.4 196.1 L428.8 196.0 L430.1 195.9 L431.4 195.9 L432.6 196.0 L433.9 196.1 L435.2 196.2 L436.5 196.5 L437.8 196.8 L439.0 197.1 L440.3 197.4 L441.5 197.8 L442.8 198.3 L444.0 198.7 L445.2 199.2 L446.5 199.7 L447.7 200.1 L448.9 200.7 L450.1 201.2 L451.3 201.7 L452.5 202.2 L453.7 202.7 L454.9 203.3 L456.1 203.8 L457.3 204.3 L458.5 204.8 L459.7 205.4 L460.9 205.9 L462.1 206.4 L463.3 206.8 L464.5 207.3 L465.7 207.8 L466.9 208.3 L468.1 208.7 L469.3 209.2 L470.5 209.6 L471.8 210.1 L473.0 210.6 L474.2 211.0 L475.5 211.5 L476.7 212.0 L477.9 212.4 L479.1 212.9 L480.4 213.4 L481.6 213.9 L482.8 214.4 L484.0 215.0 L485.2 215.5 L486.3 216.1 L487.5 216.7 L488.6 217.4 L489.8 218.0 L490.9 218.7 L492.0 219.4 L493.0 220.1 L494.1 220.9 L495.1 221.7 L496.1 222.5 L497.1 223.4 L498.1 224.2 L499.1 225.1 L500.0 226.0 L500.9 226.9 L501.8 227.9 L502.8 228.8 L503.6 229.8 L504.5 230.7 L505.4 231.7 L506.3 232.7 L507.1 233.7 L507.9 234.7 L508.8 235.7 L509.6 236.7 L510.4 237.7 L511.2 238.8 L512.0 239.8 L512.7 240.9 L513.5 241.9 L514.3 243.0 L515.0 244.1 L515.7 245.1 L516.5 246.2 L517.2 247.3 L517.9 248.4 L518.6 249.5 L519.3 250.6 L520.0 251.8 L520.6 252.9 L521.3 254.0 L522.0 255.1 L522.6 256.3 L523.2 257.4 L523.9 258.6 L524.5 259.7 L525.1 260.9 L525.7 262.0 L526.3 263.2 L526.9 264.4 L527.5 265.5 L528.1 266.7 L528.6 267.9 L529.2 269.1 L529.8 270.3 L530.3 271.5 L530.8 272.6 L531.4 273.8 L531.9 275.0 L532.4 276.2 L532.9 277.4 L533.5 278.6 L534.0 279.8 L534.4 281.1 L534.9 282.3 L535.4 283.5 L535.9 284.7 L536.3 285.9 L536.8 287.1 L537.2 288.4 L537.6 289.6 L538.1 290.8 L538.5 292.1 L538.9 293.3 L539.2 294.5 L539.6 295.8 L540.0 297.0 L540.3 298.3 L540.7 299.5 L541.0 300.8 L541.3 302.1 L541.6 303.3 L541.9 304.6 L542.2 305.9 L542.5 307.1 L542.7 308.4 L543.0 309.7 L543.2 311.0 L543.4 312.3 L543.6 313.6 L543.8 314.9 L544.0 316.2 L544.1 317.5 L544.3 318.8 L544.4 320.1 L544.5 321.5 L544.6 322.8 L544.6 324.1 L544.7 325.4 L544.7 326.7 L544.7 328.0 L544.7 329.3 L544.7 330.6 L544.7 332.0 L544.6 333.3 L544.5 334.6 L544.4 335.9 L544.2 337.2 L544.1 338.4 L543.9 339.7 L543.7 341.0 L543.5 342.3 L543.3 343.6 L543.0 344.8 L542.7 346.1 L542.4 347.4 L542.1 348.6 L541.8 349.9 L541.5 351.1 L541.2 352.4 L540.8 353.6 L540.4 354.9 L540.1 356.1 L539.7 357.4 L539.3 358.6 L538.9 359.9 L538.5 361.1 L538.1 362.4 L537.7 363.6 L537.2 364.9 L536.8 366.1 L536.4 367.4 L536.0 368.6 L535.6 369.8 L535.1 371.1 L534.7 372.3 L534.3 373.6 L533.9 374.8 L533.5 376.1 L533.1 377.3 L532.7 378.6 L532.3 379.8 L531.9 381.1 L531.5 382.4 L531.1 383.6 L530.8 384.9 L530.4 386.2 L530.1 387.4 L529.8 388.7 L529.5 390.0 L529.2 391.3 L528.9 392.5 L528.6 393.8 L528.4 395.1 L528.2 396.4 L527.9 397.7 L527.8 399.0 L527.6 400.3 L527.5 401.5 L527.3 402.8 L527.2 404.1 L527.2 405.4 L527.1 406.7 L527.1 408.0 L527.1 409.3 L527.2 410.6 L527.3 411.9 L527.5 413.2 L527.8 414.5 L528.1 415.8 L528.4 417.1 L528.9 418.4 L529.4 419.7 L530.1 421.0 L530.8 422.3 L531.5 423.4 L532.3 424.3 L533.0 424.7 L533.6 424.6 L534.2 424.0 L534.6 423.0 L535.0 421.6 L535.4 420.1 L535.7 418.4 L536.0 416.7 L536.3 415.1 L536.6 413.6 L537.0 412.3 L537.3 411.0 L537.6 409.7 L538.0 408.5 L538.3 407.4 L538.6 406.2 L539.0 405.1 L539.3 403.9 L539.6 402.7 L540.0 401.4 L540.3 400.2 L540.6 398.9 L541.0 397.6 L541.3 396.4 L541.7 395.1 L542.2 393.8 L542.7 392.6 L543.2 391.3 L543.8 390.1 L544.4 389.0 L545.1 387.8 L545.8 386.8 L546.7 385.7 L547.6 384.8 L548.6 383.9 L549.6 383.0 L550.8 382.3 L552.0 381.8 L553.2 381.3 L554.4 381.1 L555.6 381.1 L556.8 381.3 L557.9 381.7 L559.1 382.3 L560.2 383.0 L561.3 383.8 L562.3 384.7 L563.3 385.7 L564.3 386.7 L565.2 387.8 L566.1 388.9 L566.9 389.9 L567.7 391.0 L568.4 392.1 L569.1 393.1 L569.8 394.2 L570.5 395.3 L571.1 396.3 L571.8 397.4 L572.4 398.4 L573.1 399.5 L573.9 400.6 L574.6 401.7 L575.4 402.7 L576.2 403.8 L577.1 404.9 L578.0 405.9 L579.0 407.0 L580.0 407.9 L581.1 408.8 L582.2 409.4 L583.4 409.8 L584.5 409.9 L585.6 409.6 L586.8 409.0 L587.9 408.2 L588.9 407.3 L589.9 406.3 L590.8 405.3 L591.7 404.2 L592.5 403.2 L593.3 402.2 L594.1 401.2 L594.9 400.2 L595.8 399.2 L596.7 398.2 L597.6 397.3 L598.7 396.4 L599.7 395.6 L600.8 394.8 L602.0 394.1 L603.1 393.6 L604.4 393.1 L605.6 392.8 L606.8 392.6 L608.1 392.6 L609.4 392.8 L610.6 393.1 L611.9 393.5 L613.1 394.1 L614.3 394.7 L615.5 395.4 L616.6 396.1 L617.7 396.9 L618.7 397.7 L619.7 398.5 L620.7 399.4 L621.6 400.3 L622.5 401.3 L623.3 402.2 L624.2 403.2 L625.0 404.2 L625.8 405.3 L626.6 406.3 L627.3 407.4 L628.0 408.5 L628.8 409.6 L629.5 410.7 L630.2 411.8 L630.9 413.0 L631.6 414.1 L632.3 415.2 L633.0 416.3 L633.8 417.4 L634.5 418.5 L635.3 419.5 L636.1 420.5 L637.0 421.5 L637.9 422.4 L638.9 423.2 L639.9 424.1 L641.0 424.8 L642.1 425.5 L643.3 426.1 L644.5 426.6 L645.8 426.9 L647.1 427.1 L648.4 427.1 L649.7 426.9 L651.0 426.5 L652.3 426.0 L653.5 425.4 L654.7 424.8 L655.8 424.1 L656.9 423.4 L657.9 422.8 L658.9 422.1 L659.9 421.4 L660.9 420.7 L662.0 420.0 L663.2 419.3 L664.4 418.6 L665.7 417.9 L667.0 417.3 L668.3 416.7 L669.6 416.3 L671.0 415.9 L672.3 415.6 L673.6 415.5 L674.8 415.5 L676.0 415.7 L677.1 416.1 L678.1 416.6 L679.1 417.3 L680.0 418.2 L680.8 419.1 L681.6 420.2 L682.3 421.3 L682.9 422.5 L683.5 423.8 L684.0 425.1 L684.4 426.4 L684.8 427.7 L685.0 429.0 L685.3 430.3 L685.4 431.6 L685.6 432.9 L685.6 434.2 L685.7 435.5 L685.6 436.8 L685.6 438.1 L685.5 439.4 L685.4 440.7 L685.3 442.0 L685.1 443.3 L685.0 444.6 L684.8 445.9 L684.6 447.2 L684.4 448.5 L684.2 449.8 L684.0 451.1 L683.8 452.4 L683.7 453.7 L683.5 455.0 L683.4 456.3 L683.3 457.6 L683.2 458.9 L683.1 460.2 L683.1 461.5 L683.1 462.8 L683.2 464.1 L683.2 465.4 L683.4 466.7 L683.5 468.0 L683.7 469.3 L683.9 470.6 L684.2 471.9 L684.5 473.1 L684.9 474.4 L685.3 475.6 L685.7 476.9 L686.2 478.1 L686.7 479.3 L687.2 480.5 L687.8 481.6 L688.4 482.8 L689.1 483.9 L689.8 485.0 L690.5 486.1 L691.2 487.3 L691.9 488.4 L692.7 489.4 L693.4 490.5 L694.2 491.6 L694.9 492.7 L695.7 493.8 L696.4 494.9 L697.1 496.0 L697.8 497.2 L698.4 498.3 L699.0 499.4 L699.6 500.6 L700.1 501.8 L700.6 503.0 L701.1 504.2 L701.5 505.4 L701.9 506.6 L702.2 507.9 L702.5 509.1 L702.8 510.4 L703.0 511.7 L703.2 513.0 L703.4 514.3 L703.6 515.6 L703.7 516.9 L703.8 518.2 L703.8 519.5 L703.9 520.8 L703.9 522.1 L703.9 523.5 L703.8 524.8 L703.8 526.1 L703.7 527.4 L703.6 528.8 L703.5 530.1 L703.4 531.4 L703.3 532.7 L703.2 534.0 L703.0 535.3 L702.9 536.6 L702.8 537.9 L702.7 539.2 L702.6 540.5 L702.4 541.8 L702.3 543.0 L702.3 544.3 L702.2 545.6 L702.1 546.9 L702.0 548.2 L702.0 549.4 L702.0 550.7 L702.0 552.0 L702.0 553.3 L702.0 554.6 L702.1 555.9 L702.2 557.2 L702.3 558.5 L702.5 559.8 L702.6 561.2 L702.9 562.5 L703.1 563.8 L703.3 565.2 L703.6 566.5 L703.8 567.9 L704.0 569.2 L704.2 570.5 L704.4 571.9 L704.6 573.2 L704.7 574.5 L704.8 575.8 L704.8 577.1 L704.8 578.4 L704.7 579.7 L704.6 580.9 L704.4 582.2 L704.1 583.4 L703.7 584.6 L703.3 585.8 L702.9 587.0 L702.3 588.1 L701.8 589.3 L701.2 590.4 L700.6 591.6 L699.9 592.7 L699.2 593.8 L698.5 594.9 L697.8 596.1 L697.0 597.2 L696.2 598.3 L695.5 599.4 L694.7 600.4 L693.9 601.5 L693.2 602.6 L692.4 603.7 L691.7 604.8 L690.9 605.9 L690.2 607.0 L689.5 608.1 L688.8 609.2 L688.2 610.3 L687.5 611.4 L686.9 612.5 L686.3 613.6 L685.7 614.8 L685.1 615.9 L684.5 617.0 L683.9 618.2 L683.4 619.3 L682.8 620.5 L682.3 621.7 L681.7 622.9 L681.2 624.0 L680.7 625.2 L680.2 626.4 L679.7 627.6 L679.2 628.9 L678.7 630.1 L678.2 631.3 L677.7 632.5 L677.2 633.7 L676.7 634.9 L676.2 636.2 L675.6 637.4 L675.1 638.6 L674.6 639.8 L674.0 641.0 L673.4 642.2 L672.8 643.4 L672.2 644.6 L671.5 645.8 L670.9 646.9 L670.1 648.0 L669.4 649.0 L668.6 650.1 L667.8 651.0 L666.9 652.0 L665.9 652.8 L664.9 653.6 L663.9 654.4 L662.7 655.0 L661.5 655.6 L660.3 656.1 L659.1 656.4 L657.8 656.6 L656.6 656.6 L655.3 656.5 L654.0 656.3 L652.8 655.9 L651.5 655.5 L650.3 654.9 L649.0 654.3 L647.8 653.7 L646.7 652.9 L645.5 652.2 L644.4 651.4 L643.3 650.6 L642.3 649.9 L641.3 649.1 L640.3 648.4 L639.3 647.6 L638.3 646.9 L637.2 646.2 L636.2 645.6 L635.1 644.9 L633.9 644.4 L632.6 643.9 L631.2 643.5 L629.6 643.2 L627.8 643.0 L626.0 642.9 L624.2 642.8 L622.6 642.9 L621.3 642.9 L620.5 643.0 L620.2 643.1 L620.6 643.2 L621.7 643.2 L623.1 643.2 L624.7 643.2 L626.2 643.2 L627.3 643.2 L627.9 643.2 L627.7 643.2 L626.9 643.3 L625.7 643.4 L624.1 643.5 L622.3 643.6 L620.5 643.7 L618.7 643.8 L617.1 643.9 L615.7 644.1 L614.3 644.2 L613.1 644.4 L611.9 644.6 L610.7 644.8 L609.5 645.1 L608.3 645.3 L607.1 645.6 L605.8 646.0 L604.6 646.3 L603.3 646.7 L602.1 647.1 L600.8 647.5 L599.6 648.0 L598.4 648.5 L597.2 649.1 L596.1 649.6 L594.9 650.2 L593.8 650.8 L592.7 651.5 L591.6 652.2 L590.5 652.9 L589.4 653.6 L588.2 654.4 L587.1 655.1 L585.9 655.8 L584.7 656.5 L583.5 657.2 L582.4 657.8 L581.1 658.3 L579.9 658.7 L578.7 659.0 L577.5 659.1 L576.2 659.2 L575.0 659.0 L573.7 658.7 L572.5 658.2 L571.3 657.6 L570.1 656.9 L569.0 656.2 L568.0 655.3 L567.0 654.4 L566.1 653.5 L565.3 652.5 L564.5 651.5 L563.7 650.4 L563.0 649.3 L562.3 648.2 L561.7 647.1 L561.0 645.9 L560.4 644.7 L559.8 643.6 L559.1 642.4 L558.5 641.3 L557.9 640.1 L557.2 639.0 L556.5 637.9 L555.8 636.8 L555.1 635.7 L554.3 634.6 L553.5 633.6 L552.7 632.6 L551.9 631.5 L551.1 630.5 L550.3 629.5 L549.5 628.5 L548.6 627.5 L547.8 626.6 L546.9 625.6 L546.0 624.6 L545.2 623.6 L544.3 622.6 L543.4 621.6 L542.6 620.6 L541.7 619.6 L540.9 618.6 L540.1 617.6 L539.3 616.6 L538.5 615.5 L537.7 614.5 L536.9 613.4 L536.2 612.3 L535.5 611.2 L534.9 610.1 L534.3 609.0 L533.7 607.8 L533.2 606.7 L532.7 605.5 L532.2 604.3 L531.8 603.0 L531.5 601.8 L531.2 600.5 L530.9 599.2 L530.7 597.9 L530.5 596.6 L530.4 595.2 L530.2 593.9 L530.1 592.6 L530.0 591.3 L529.9 589.9 L529.8 588.6 L529.7 587.3 L529.7 586.0 L529.7 584.7 L529.6 583.4 L529.6 582.0 L529.7 580.7 L529.7 579.4 L529.8 578.1 L529.8 576.8 L529.9 575.6 L530.1 574.3 L530.2 573.0 L530.4 571.7 L530.6 570.4 L530.8 569.1 L531.0 567.9 L531.3 566.6 L531.6 565.3 L531.9 564.1 L532.2 562.8 L532.6 561.6 L533.0 560.4 L533.4 559.2 L533.8 558.0 L534.2 556.9 L534.7 555.7 L535.2 554.6 L535.7 553.4 L536.2 552.3 L536.7 551.1 L537.3 550.0 L537.9 548.8 L538.5 547.7 L539.1 546.6 L539.8 545.5 L540.5 544.4 L541.3 543.3 L542.1 542.3 L542.9 541.3 L543.8 540.4 L544.8 539.5 L545.7 538.6 L546.7 537.7 L547.8 536.9 L548.8 536.1 L549.9 535.3 L551.0 534.6 L552.1 533.9 L553.2 533.1 L554.3 532.4 L555.4 531.7 L556.5 531.0 L557.6 530.2 L558.6 529.5 L559.6 528.7 L560.6 527.8 L561.6 526.9 L562.5 526.0 L563.4 525.0 L564.2 524.0 L565.0 523.0 L565.8 521.9 L566.5 520.9 L567.2 519.7 L567.8 518.6 L568.5 517.4 L569.0 516.3 L569.6 515.1 L570.1 513.9 L570.6 512.7 L571.1 511.4 L571.5 510.2 L571.9 508.9 L572.3 507.7 L572.7 506.4 L573.1 505.1 L573.4 503.9 L573.7 502.6 L574.0 501.3 L574.3 500.0 L574.6 498.7 L574.9 497.5 L575.2 496.2 L575.4 494.9 L575.7 493.6 L576.0 492.4 L576.2 491.1 L576.5 489.9 L576.8 488.7 L577.1 487.4 L577.3 486.2 L577.6 485.0 L577.8 483.7 L578.0 482.4 L578.1 481.1 L578.3 479.7 L578.3 478.3 L578.3 476.8 L578.3 475.3 L578.1 473.9 L577.8 472.6 L577.3 471.4 L576.5 470.5 L575.6 469.8 L574.6 469.4 L573.5 469.4 L572.4 469.8 L571.3 470.4 L570.1 471.3 L569.0 472.2 L567.9 473.1 L566.8 474.0 L565.8 474.9 L564.7 475.7 L563.7 476.5 L562.7 477.3 L561.7 478.0 L560.7 478.8 L559.7 479.6 L558.6 480.4 L557.6 481.2 L556.5 481.9 L555.4 482.6 L554.2 483.3 L553.0 483.8 L551.7 484.2 L550.4 484.5 L549.1 484.7 L547.8 484.7 L546.5 484.5 L545.3 484.1 L544.1 483.6 L543.1 482.9 L542.1 482.0 L541.2 481.0 L540.3 479.9 L539.5 478.8 L538.8 477.6 L538.1 476.4 L537.5 475.3 L536.9 474.1 L536.3 472.9 L535.8 471.7 L535.2 470.6 L534.7 469.4 L534.2 468.3 L533.7 467.2 L533.2 466.0 L532.7 464.9 L532.2 463.8 L531.8 462.6 L531.3 461.4 L531.0 460.1 L530.6 458.8 L530.4 457.3 L530.1 455.8 L529.9 454.1 L529.8 452.4 L529.6 450.8 L529.4 449.2 L529.2 447.9 L528.8 446.8 L528.3 446.1 L527.7 445.8 L526.9 445.9 L525.9 446.5 L524.8 447.3 L523.7 448.3 L522.6 449.5 L521.6 450.6 L520.6 451.7 L519.7 452.8 L518.9 453.9 L518.1 454.9 L517.3 455.9 L516.6 456.9 L515.9 457.9 L515.1 458.9 L514.4 459.9 L513.6 460.8 L512.8 461.8 L512.0 462.8 L511.1 463.9 L510.3 464.9 L509.4 465.9 L508.6 466.9 L507.8 467.9 L506.9 469.0 L506.1 470.0 L505.3 471.1 L504.5 472.1 L503.7 473.2 L503.0 474.2 L502.2 475.3 L501.5 476.4 L500.8 477.5 L500.1 478.5 L499.4 479.6 L498.7 480.7 L498.0 481.8 L497.3 483.0 L496.7 484.1 L496.0 485.2 L495.4 486.3 L494.8 487.4 L494.1 488.6 L493.5 489.7 L492.9 490.9 L492.3 492.0 L491.7 493.2 L491.1 494.3 L490.4 495.5 L489.8 496.7 L489.2 497.9 L488.6 499.0 L488.0 500.2 L487.4 501.4 L486.8 502.6 L486.1 503.8 L485.5 504.9 L484.8 506.1 L484.1 507.2 L483.4 508.3 L482.6 509.3 L481.8 510.3 L481.0 511.2 L480.1 512.1 L479.1 512.9 L478.1 513.6 L477.1 514.3 L475.9 514.8 L474.7 515.3 L473.4 515.7 L472.1 516.0 L470.8 516.3 L469.4 516.5 L468.1 516.8 L466.7 517.0 L465.3 517.2 L464.0 517.4 L462.7 517.6 L461.3 517.8 L460.0 518.0 L458.7 518.0 L457.5 518.0 L456.2 517.9 L454.9 517.7 L453.7 517.4 L452.4 517.0 L451.2 516.5 L450.1 515.9 L448.9 515.2 L447.9 514.5 L446.8 513.6 L445.9 512.7 L445.0 511.7 L444.2 510.7 L443.4 509.6 L442.8 508.5 L442.2 507.3 L441.8 506.1 L441.4 504.8 L441.2 503.5 L441.0 502.2 L441.0 500.9 L441.0 499.6 L441.0 498.3 L441.1 496.9 L441.2 495.6 L441.4 494.3 L441.6 493.0 L441.8 491.7 L442.0 490.4 L442.3 489.1 L442.6 487.8 L442.9 486.5 L443.2 485.3 L443.5 484.0 L443.9 482.7 L444.2 481.5 L444.6 480.2 L445.0 479.0 L445.4 477.7 L445.7 476.5 L446.1 475.2 L446.5 474.0 L446.9 472.7 L447.2 471.5 L447.6 470.3 L447.9 469.0 L448.3 467.8 L448.6 466.5 L448.9 465.3 L449.2 464.0 L449.5 462.7 L449.8 461.5 L450.1 460.2 L450.3 458.9 L450.6 457.6 L450.8 456.4 L451.0 455.1 L451.1 453.7 L451.3 452.4 L451.4 451.1 L451.5 449.8 L451.6 448.4 L451.7 447.1 L451.7 445.7 L451.6 444.3 L451.5 443.0 L451.4 441.7 L451.1 440.4 L450.7 439.2 L450.3 438.1 L449.6 437.0 L448.9 436.0 L448.0 435.1 L446.9 434.4 L445.7 433.8 L444.4 433.3 L443.1 433.1 L441.8 433.1 L440.5 433.2 L439.2 433.6 L437.9 434.0 L436.7 434.6 L435.4 435.2 L434.3 435.8 L433.1 436.5 L432.0 437.2 L430.9 437.9 L429.9 438.7 L428.9 439.6 L428.0 440.4 L427.1 441.4 L426.3 442.3 L425.6 443.4 L424.8 444.4 L424.1 445.5 L423.4 446.6 L422.7 447.7 L422.0 448.8 L421.3 449.9 L420.6 451.0 L419.9 452.1 L419.1 453.2 L418.4 454.2 L417.6 455.3 L416.8 456.4 L416.0 457.4 L415.2 458.5 L414.3 459.5 L413.5 460.5 L412.6 461.5 L411.8 462.5 L410.9 463.5 L410.0 464.4 L409.0 465.3 L408.1 466.3 L407.1 467.2 L406.2 468.1 L405.2 468.9 L404.2 469.8 L403.2 470.6 L402.2 471.4 L401.1 472.2 L400.0 472.9 L399.0 473.7 L397.9 474.4 L396.8 475.1 L395.7 475.7Z"/>
<path d="M587.8 499.8 L587.2 500.5 L586.6 501.2 L586.0 501.9 L585.4 502.6 L584.9 503.4 L584.3 504.1 L583.8 504.9 L583.2 505.6 L582.7 506.4 L582.2 507.2 L581.7 508.0 L581.2 508.7 L580.7 509.5 L580.3 510.3 L579.8 511.1 L579.4 511.9 L578.9 512.7 L578.5 513.5 L578.0 514.4 L577.6 515.2 L577.2 516.0 L576.7 516.8 L576.3 517.6 L575.9 518.5 L575.5 519.3 L575.1 520.1 L574.7 521.0 L574.3 521.8 L573.8 522.6 L573.4 523.5 L573.0 524.3 L572.6 525.1 L572.2 526.0 L571.8 526.8 L571.4 527.6 L571.0 528.5 L570.6 529.3 L570.2 530.1 L569.7 531.0 L569.3 531.8 L568.9 532.6 L568.5 533.4 L568.0 534.2 L567.6 535.0 L567.1 535.8 L566.7 536.6 L566.2 537.4 L565.8 538.2 L565.3 539.0 L564.8 539.8 L564.4 540.6 L563.9 541.4 L563.4 542.2 L562.9 543.0 L562.4 543.8 L562.0 544.6 L561.5 545.4 L561.0 546.2 L560.5 547.0 L560.0 547.7 L559.6 548.5 L559.1 549.3 L558.6 550.1 L558.2 550.9 L557.7 551.7 L557.2 552.5 L556.8 553.3 L556.3 554.1 L555.9 554.9 L555.4 555.8 L555.0 556.6 L554.6 557.4 L554.1 558.2 L553.7 559.1 L553.3 559.9 L552.9 560.7 L552.5 561.6 L552.1 562.4 L551.7 563.3 L551.4 564.1 L551.0 565.0 L550.7 565.9 L550.3 566.8 L550.0 567.6 L549.8 568.5 L549.5 569.4 L549.2 570.3 L549.0 571.2 L548.8 572.1 L548.6 573.0 L548.5 573.9 L548.4 574.8 L548.3 575.7 L548.3 576.6 L548.2 577.5 L548.3 578.4 L548.3 579.4 L548.4 580.3 L548.6 581.2 L548.7 582.1 L548.9 583.0 L549.2 583.9 L549.5 584.8 L549.7 585.7 L550.1 586.6 L550.4 587.5 L550.8 588.3 L551.1 589.2 L551.5 590.1 L551.9 590.9 L552.4 591.7 L552.8 592.6 L553.2 593.4 L553.7 594.2 L554.1 595.0 L554.6 595.9 L555.1 596.7 L555.5 597.5 L556.0 598.3 L556.5 599.0 L557.0 599.8 L557.5 600.6 L558.0 601.4 L558.5 602.2 L559.0 603.0 L559.5 603.7 L560.0 604.5 L560.4 605.3 L560.9 606.1 L561.4 606.8 L561.9 607.6 L562.3 608.4 L562.8 609.2 L563.2 609.9 L563.7 610.7 L564.1 611.5 L564.6 612.3 L565.0 613.1 L565.5 613.9 L565.9 614.7 L566.4 615.5 L566.8 616.3 L567.3 617.1 L567.8 617.9 L568.3 618.8 L568.8 619.6 L569.3 620.5 L569.8 621.3 L570.3 622.1 L570.9 622.9 L571.4 623.7 L572.0 624.5 L572.6 625.3 L573.2 626.0 L573.8 626.7 L574.4 627.4 L575.1 628.0 L575.8 628.6 L576.5 629.2 L577.2 629.7 L577.9 630.1 L578.7 630.5 L579.5 630.8 L580.3 631.1 L581.1 631.3 L582.0 631.4 L582.8 631.5 L583.7 631.5 L584.6 631.4 L585.6 631.3 L586.5 631.2 L587.4 631.0 L588.4 630.8 L589.3 630.6 L590.2 630.3 L591.1 630.0 L592.1 629.7 L593.0 629.4 L593.9 629.1 L594.8 628.8 L595.7 628.5 L596.5 628.1 L597.4 627.8 L598.3 627.4 L599.2 627.1 L600.1 626.7 L600.9 626.3 L601.8 625.9 L602.7 625.6 L603.5 625.2 L604.4 624.8 L605.2 624.4 L606.1 624.1 L607.0 623.7 L607.8 623.3 L608.7 622.9 L609.5 622.6 L610.4 622.2 L611.3 621.9 L612.1 621.6 L613.0 621.2 L613.8 620.9 L614.7 620.6 L615.6 620.3 L616.4 620.0 L617.3 619.8 L618.2 619.5 L619.1 619.3 L619.9 619.1 L620.8 618.9 L621.7 618.7 L622.6 618.6 L623.5 618.4 L624.4 618.3 L625.3 618.2 L626.2 618.1 L627.1 618.1 L628.0 618.1 L629.0 618.0 L629.9 618.0 L630.8 618.1 L631.7 618.1 L632.6 618.2 L633.5 618.3 L634.4 618.4 L635.4 618.5 L636.3 618.7 L637.2 618.8 L638.1 619.0 L639.0 619.2 L639.9 619.5 L640.8 619.7 L641.7 620.0 L642.6 620.3 L643.5 620.6 L644.4 621.0 L645.3 621.4 L646.2 621.7 L647.0 622.2 L647.9 622.6 L648.8 623.0 L649.6 623.5 L650.5 623.9 L651.4 624.3 L652.2 624.6 L653.1 624.8 L653.9 625.0 L654.8 625.0 L655.7 624.9 L656.5 624.7 L657.3 624.3 L658.1 623.9 L658.8 623.4 L659.5 622.8 L660.1 622.2 L660.6 621.5 L661.1 620.7 L661.5 619.9 L661.9 619.0 L662.3 618.1 L662.7 617.2 L663.0 616.3 L663.3 615.4 L663.6 614.5 L663.9 613.6 L664.2 612.7 L664.4 611.8 L664.7 610.9 L664.9 609.9 L665.2 609.0 L665.4 608.1 L665.6 607.2 L665.8 606.3 L666.0 605.4 L666.2 604.4 L666.4 603.5 L666.5 602.6 L666.7 601.7 L666.9 600.8 L667.0 599.9 L667.2 598.9 L667.3 598.0 L667.4 597.1 L667.6 596.2 L667.7 595.3 L667.8 594.3 L667.9 593.4 L668.0 592.5 L668.2 591.6 L668.3 590.7 L668.4 589.7 L668.5 588.8 L668.6 587.9 L668.7 587.0 L668.8 586.1 L668.9 585.2 L669.0 584.2 L669.1 583.3 L669.2 582.4 L669.4 581.5 L669.5 580.6 L669.6 579.7 L669.7 578.8 L669.8 577.8 L670.0 576.9 L670.1 576.0 L670.2 575.1 L670.4 574.2 L670.5 573.3 L670.7 572.4 L670.9 571.5 L671.0 570.6 L671.2 569.7 L671.4 568.8 L671.6 567.9 L671.8 567.0 L672.0 566.1 L672.2 565.2 L672.5 564.3 L672.7 563.4 L673.0 562.6 L673.2 561.7 L673.5 560.8 L673.8 559.9 L674.1 559.0 L674.4 558.1 L674.7 557.3 L675.0 556.4 L675.3 555.5 L675.6 554.6 L676.0 553.7 L676.3 552.9 L676.6 552.0 L676.9 551.1 L677.3 550.2 L677.6 549.3 L677.9 548.5 L678.2 547.6 L678.5 546.7 L678.8 545.8 L679.1 544.9 L679.4 544.0 L679.6 543.1 L679.9 542.2 L680.1 541.3 L680.4 540.4 L680.6 539.5 L680.8 538.6 L681.0 537.7 L681.1 536.8 L681.3 535.9 L681.4 535.0 L681.5 534.1 L681.6 533.1 L681.7 532.2 L681.7 531.3 L681.7 530.3 L681.7 529.4 L681.6 528.4 L681.5 527.5 L681.4 526.5 L681.2 525.6 L681.0 524.8 L680.7 523.9 L680.3 523.1 L679.9 522.4 L679.3 521.6 L678.7 521.0 L678.0 520.4 L677.3 519.9 L676.5 519.4 L675.7 518.9 L674.9 518.5 L674.0 518.1 L673.2 517.7 L672.3 517.4 L671.4 517.1 L670.6 516.8 L669.7 516.4 L668.8 516.1 L668.0 515.8 L667.1 515.5 L666.2 515.2 L665.4 514.8 L664.6 514.4 L663.7 514.0 L662.9 513.6 L662.1 513.1 L661.3 512.6 L660.5 512.1 L659.8 511.6 L659.0 511.0 L658.3 510.5 L657.5 509.9 L656.8 509.3 L656.1 508.7 L655.4 508.0 L654.8 507.4 L654.1 506.7 L653.5 506.0 L652.9 505.3 L652.3 504.6 L651.7 503.9 L651.1 503.1 L650.6 502.3 L650.1 501.6 L649.6 500.8 L649.2 499.9 L648.7 499.1 L648.3 498.3 L647.9 497.4 L647.5 496.6 L647.2 495.7 L646.8 494.8 L646.5 494.0 L646.1 493.1 L645.8 492.2 L645.5 491.3 L645.2 490.4 L644.8 489.6 L644.5 488.7 L644.2 487.8 L643.8 487.0 L643.5 486.1 L643.1 485.3 L642.7 484.4 L642.3 483.6 L641.9 482.8 L641.5 482.0 L641.0 481.2 L640.5 480.4 L640.0 479.7 L639.4 479.0 L638.8 478.3 L638.2 477.6 L637.5 476.9 L636.8 476.3 L636.1 475.8 L635.4 475.3 L634.6 474.8 L633.8 474.4 L633.0 474.1 L632.2 473.9 L631.3 473.8 L630.5 473.8 L629.6 473.9 L628.8 474.1 L627.9 474.4 L627.1 474.8 L626.2 475.3 L625.4 475.9 L624.6 476.5 L623.8 477.1 L623.1 477.8 L622.4 478.5 L621.7 479.2 L621.1 479.9 L620.4 480.6 L619.8 481.4 L619.2 482.1 L618.6 482.8 L618.0 483.5 L617.3 484.2 L616.7 484.9 L616.1 485.6 L615.4 486.2 L614.8 486.8 L614.1 487.4 L613.4 487.9 L612.6 488.4 L611.8 488.8 L611.0 489.2 L610.2 489.6 L609.3 489.9 L608.5 490.3 L607.6 490.6 L606.7 490.8 L605.8 491.1 L604.9 491.4 L604.0 491.6 L603.1 491.8 L602.2 492.1 L601.2 492.3 L600.3 492.6 L599.4 492.8 L598.6 493.1 L597.7 493.4 L596.8 493.7 L596.0 494.0 L595.1 494.4 L594.3 494.7 L593.5 495.1 L592.7 495.6 L591.9 496.1 L591.2 496.6 L590.5 497.1 L589.8 497.7 L589.1 498.4 L588.5 499.1Z"/>
<path d="M594.1 530.4 L594.9 530.3 L595.7 530.4 L596.5 530.5 L597.3 530.7 L598.1 530.9 L598.9 531.2 L599.7 531.6 L600.5 532.0 L601.2 532.5 L601.9 532.9 L602.6 533.5 L603.3 534.0 L603.9 534.6 L604.5 535.2 L605.1 535.8 L605.7 536.4 L606.2 537.0 L606.7 537.7 L607.2 538.3 L607.8 539.0 L608.3 539.6 L608.8 540.3 L609.3 540.9 L609.8 541.5 L610.3 542.2 L610.9 542.8 L611.5 543.4 L612.0 544.0 L612.7 544.6 L613.3 545.1 L614.0 545.6 L614.7 546.0 L615.4 546.4 L616.1 546.7 L616.9 547.0 L617.7 547.1 L618.5 547.1 L619.3 547.1 L620.1 547.0 L620.9 546.8 L621.6 546.5 L622.4 546.1 L623.1 545.7 L623.8 545.3 L624.5 544.8 L625.2 544.2 L625.9 543.7 L626.6 543.1 L627.2 542.6 L627.9 542.0 L628.6 541.5 L629.3 541.0 L630.0 540.5 L630.8 540.1 L631.5 539.7 L632.3 539.4 L633.1 539.1 L633.9 538.9 L634.7 538.8 L635.5 538.8 L636.3 538.7 L637.1 538.8 L637.9 538.9 L638.7 539.1 L639.4 539.3 L640.1 539.6 L640.8 540.0 L641.5 540.4 L642.1 540.9 L642.7 541.4 L643.3 542.0 L643.8 542.6 L644.3 543.3 L644.7 544.0 L645.2 544.7 L645.6 545.5 L645.9 546.3 L646.3 547.1 L646.6 547.9 L646.9 548.8 L647.2 549.6 L647.4 550.5 L647.6 551.3 L647.8 552.2 L648.0 553.0 L648.1 553.9 L648.2 554.7 L648.3 555.5 L648.4 556.3 L648.5 557.1 L648.5 558.0 L648.5 558.8 L648.5 559.6 L648.5 560.4 L648.5 561.2 L648.4 562.0 L648.4 562.8 L648.3 563.6 L648.1 564.4 L648.0 565.2 L647.9 566.0 L647.7 566.8 L647.5 567.6 L647.4 568.4 L647.2 569.2 L646.9 570.0 L646.7 570.9 L646.5 571.7 L646.2 572.5 L645.9 573.3 L645.6 574.1 L645.3 574.9 L644.9 575.7 L644.5 576.5 L644.1 577.2 L643.7 577.9 L643.3 578.6 L642.8 579.3 L642.3 579.9 L641.7 580.5 L641.2 581.1 L640.6 581.6 L639.9 582.1 L639.3 582.6 L638.6 583.0 L637.8 583.4 L637.1 583.7 L636.3 584.0 L635.5 584.2 L634.7 584.4 L633.9 584.6 L633.1 584.8 L632.2 584.9 L631.4 585.0 L630.5 585.0 L629.6 585.1 L628.8 585.1 L627.9 585.1 L627.1 585.0 L626.2 585.0 L625.4 584.9 L624.6 584.8 L623.8 584.7 L622.9 584.6 L622.1 584.5 L621.3 584.4 L620.5 584.3 L619.7 584.2 L618.9 584.1 L618.1 584.1 L617.3 584.0 L616.5 584.0 L615.7 584.0 L614.9 584.1 L614.1 584.2 L613.3 584.3 L612.5 584.5 L611.6 584.7 L610.8 584.9 L610.0 585.2 L609.1 585.5 L608.3 585.8 L607.5 586.1 L606.6 586.4 L605.8 586.7 L605.0 587.0 L604.1 587.3 L603.3 587.6 L602.5 587.8 L601.7 588.0 L600.9 588.1 L600.1 588.2 L599.3 588.2 L598.5 588.2 L597.7 588.1 L596.9 587.9 L596.2 587.7 L595.4 587.4 L594.7 587.1 L594.0 586.8 L593.3 586.3 L592.6 585.9 L591.9 585.4 L591.2 584.9 L590.6 584.3 L590.0 583.7 L589.4 583.1 L588.8 582.5 L588.2 581.9 L587.7 581.2 L587.2 580.6 L586.7 579.9 L586.2 579.2 L585.8 578.5 L585.4 577.8 L585.0 577.1 L584.6 576.4 L584.2 575.7 L583.9 574.9 L583.5 574.2 L583.2 573.4 L583.0 572.6 L582.7 571.9 L582.4 571.1 L582.2 570.3 L582.0 569.5 L581.8 568.7 L581.6 567.9 L581.4 567.1 L581.3 566.3 L581.1 565.4 L581.0 564.6 L580.9 563.8 L580.8 562.9 L580.8 562.1 L580.7 561.3 L580.7 560.4 L580.6 559.6 L580.6 558.7 L580.6 557.9 L580.6 557.0 L580.6 556.2 L580.6 555.3 L580.7 554.5 L580.7 553.6 L580.8 552.8 L580.9 552.0 L580.9 551.1 L581.0 550.3 L581.1 549.4 L581.3 548.6 L581.4 547.8 L581.5 546.9 L581.6 546.1 L581.8 545.3 L582.0 544.5 L582.2 543.7 L582.4 542.9 L582.6 542.1 L582.9 541.3 L583.1 540.5 L583.4 539.8 L583.8 539.1 L584.1 538.3 L584.5 537.6 L584.9 536.9 L585.4 536.3 L585.8 535.6 L586.4 535.0 L586.9 534.4 L587.5 533.8 L588.1 533.2 L588.8 532.7 L589.5 532.2 L590.2 531.7 L590.9 531.3 L591.7 531.0 L592.5 530.7 L593.3 530.5Z"/>
</g>
<path d="M335.7 336.6L360.6 304.0 M335.7 357.1L360.6 324.6 M335.7 377.7L360.6 345.2 M334.2 397.0L362.2 367.0 M334.2 417.5L362.2 387.6 M333.7 437.6L362.7 408.6 M356.3 295.5L381.2 262.9 M356.3 316.0L381.2 283.5 M356.3 336.6L381.2 304.0 M356.3 357.1L381.2 324.6 M356.3 377.7L381.2 345.2 M354.7 397.0L382.7 367.0 M354.7 417.5L382.7 387.6 M354.2 437.6L383.2 408.6 M352.6 456.3L384.9 431.0 M348.8 468.8L388.7 459.6 M348.9 490.1L388.5 479.5 M376.8 274.9L401.8 242.4 M376.8 295.5L401.8 262.9 M376.8 316.0L401.8 283.5 M376.8 336.6L401.8 304.0 M376.8 357.1L401.8 324.6 M376.8 377.7L401.8 345.2 M375.3 397.0L403.3 367.0 M375.3 417.5L403.3 387.6 M374.8 437.6L403.8 408.6 M373.1 456.3L405.4 431.0 M369.3 468.8L409.3 459.6 M397.4 254.3L422.3 221.8 M397.4 274.9L422.3 242.4 M397.4 295.5L422.3 262.9 M397.4 316.0L422.3 283.5 M397.4 336.6L422.3 304.0 M397.4 357.1L422.3 324.6 M397.4 377.7L422.3 345.2 M397.4 398.3L422.3 365.7 M397.4 418.8L422.3 386.3 M394.1 436.3L425.6 409.9 M417.9 254.3L442.9 221.8 M417.9 274.9L442.9 242.4 M417.9 295.5L442.9 262.9 M417.9 316.0L442.9 283.5 M417.9 336.6L442.9 304.0 M417.9 357.1L442.9 324.6 M438.5 254.3L463.4 221.8 M438.5 274.9L463.4 242.4 M438.5 295.5L463.4 262.9 M438.5 316.0L463.4 283.5 M435.5 333.8L466.4 306.9 M437.6 351.3L464.4 330.4 M460.7 296.6L482.4 261.8 M460.7 317.1L482.4 282.4 M460.7 337.7L482.4 302.9 M414.7 375.2L443.7 367.4 M415.2 374.8L434.2 357.0 M561.1 542.0L587.1 510.0 M581.1 542.0L608.1 510.0" stroke="#f6f420" stroke-width="1" fill="none" opacity="1"/>
</svg>
</body></html>
